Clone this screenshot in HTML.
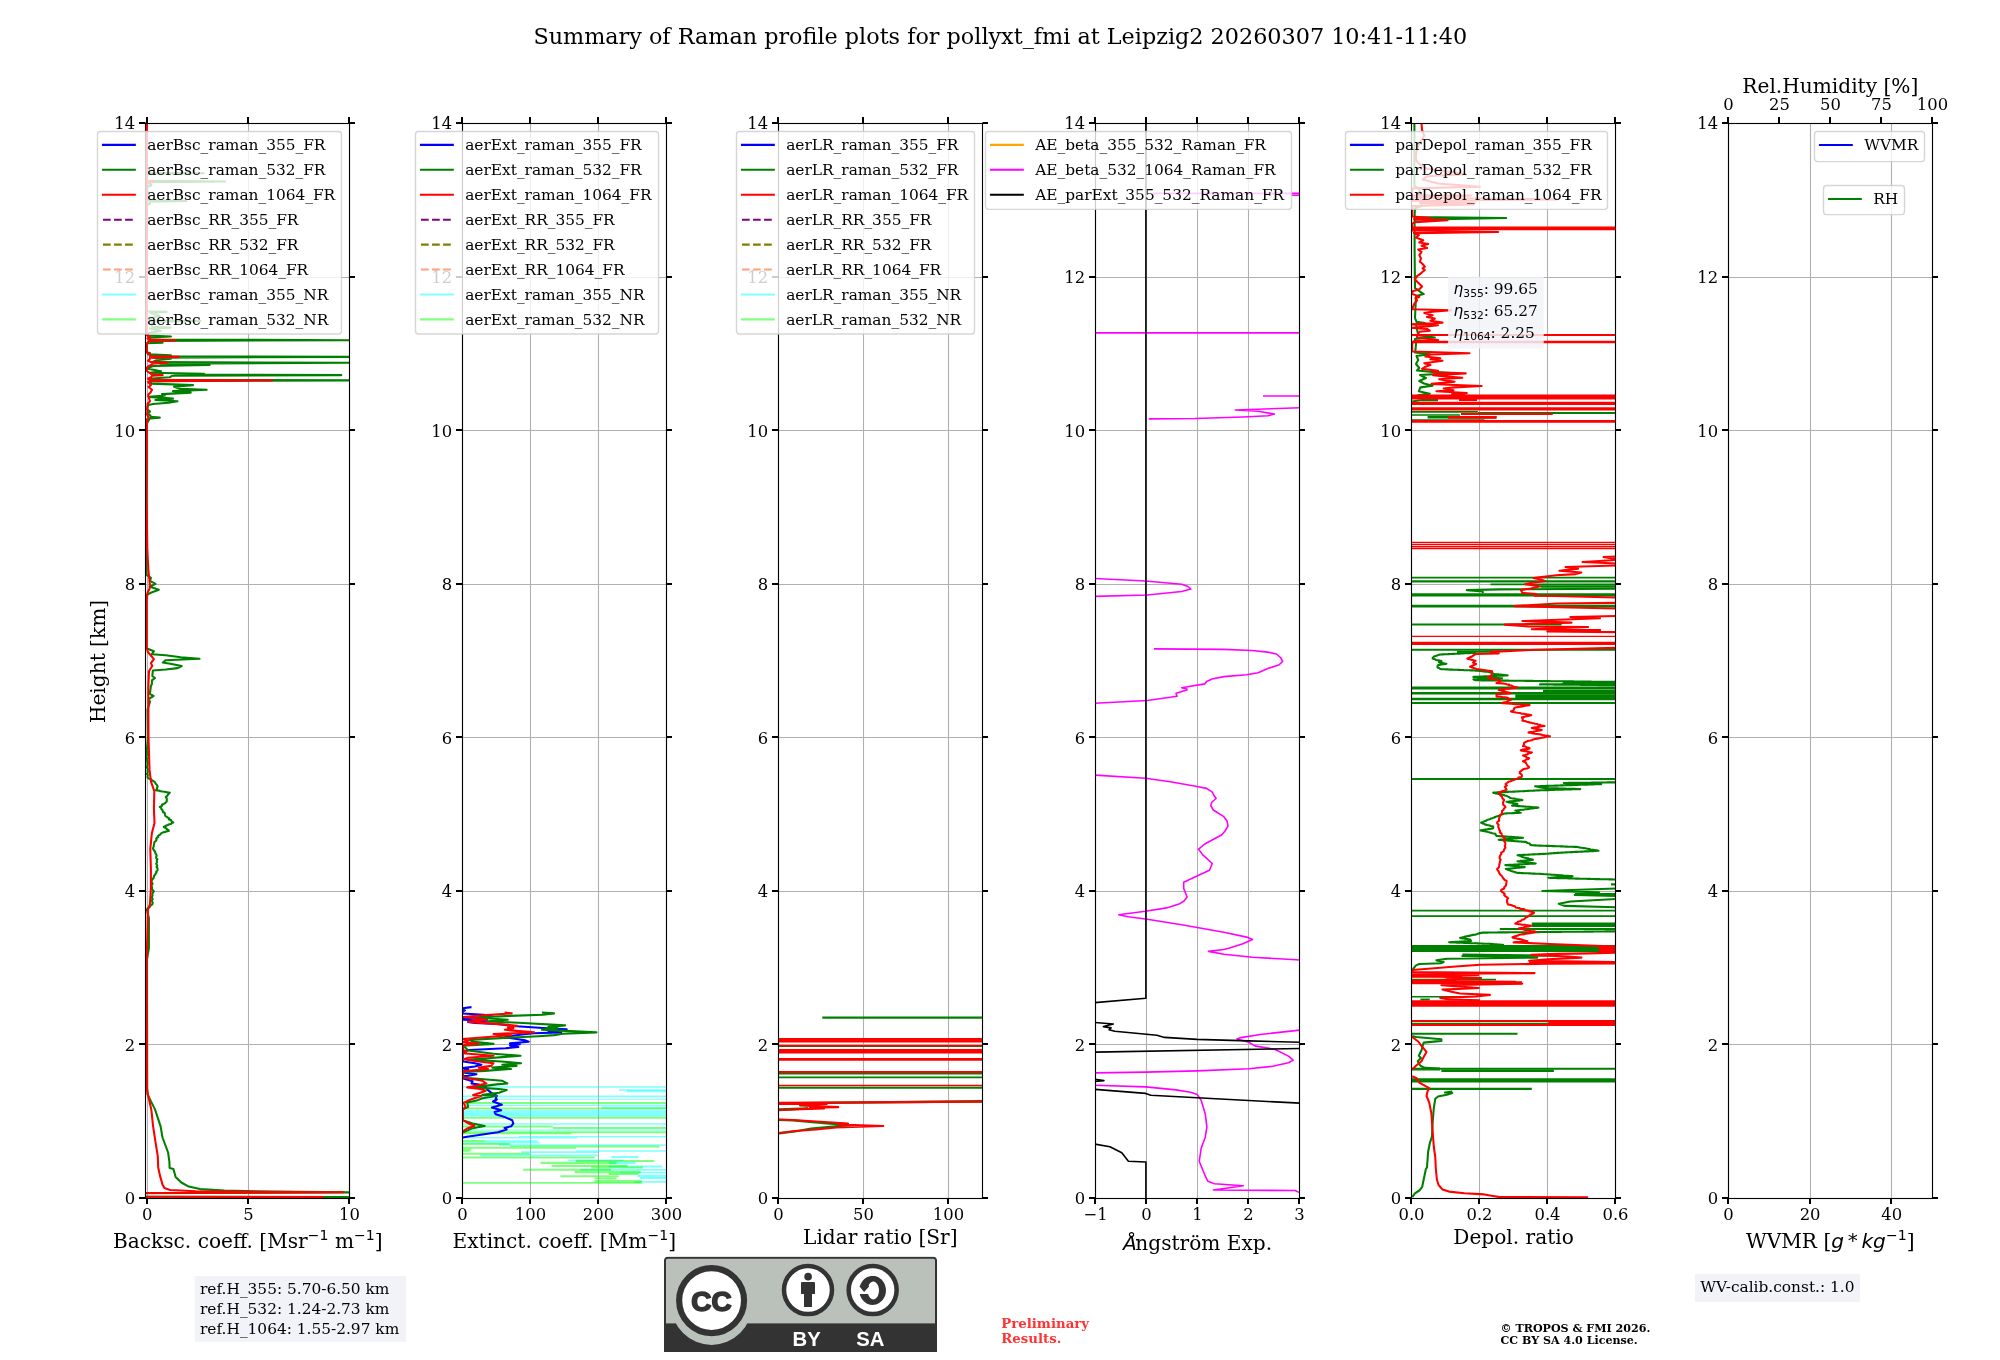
<!DOCTYPE html>
<html lang="en"><head><meta charset="utf-8"><title>Summary of Raman profile plots</title>
<style>html,body{margin:0;padding:0;background:#fff}body{width:2000px;height:1360px;overflow:hidden}svg text{white-space:pre}</style></head>
<body>
<svg width="2000" height="1360" viewBox="0 0 2000 1360" style="display:block;will-change:transform">
<rect width="2000" height="1360" fill="#fff"/>
<defs><clipPath id="c0"><rect x="145.50" y="123.50" width="204.00" height="1075.00"/></clipPath><clipPath id="c1"><rect x="462.50" y="123.50" width="204.00" height="1075.00"/></clipPath><clipPath id="c2"><rect x="778.50" y="123.50" width="204.00" height="1075.00"/></clipPath><clipPath id="c3"><rect x="1095.50" y="123.50" width="204.00" height="1075.00"/></clipPath><clipPath id="c4"><rect x="1411.50" y="123.50" width="204.00" height="1075.00"/></clipPath><clipPath id="c5"><rect x="1728.50" y="123.50" width="204.00" height="1075.00"/></clipPath></defs>
<text x="1000.30" y="43.80" font-size="22.30" text-anchor="middle" font-family="'DejaVu Serif','Liberation Serif',serif" >Summary of Raman profile plots for pollyxt_fmi at Leipzig2 20260307 10:41-11:40</text>
<g id="ax1">
<path d="M147.50 123.50V1198.50M248.50 123.50V1198.50M349.50 123.50V1198.50M145.50 1198.50H349.50M145.50 1044.50H349.50M145.50 891.50H349.50M145.50 737.50H349.50M145.50 584.50H349.50M145.50 430.50H349.50M145.50 277.50H349.50M145.50 123.50H349.50" stroke="#b0b0b0" stroke-width="1.11" fill="none"/>
<g clip-path="url(#c0)">
<path d="M146.6 123.5L146.6 172.7L203.7 173.3L147 173.9L147 180.9L225.2 181.5L148 182.1L151.6 185.3L147 187L147.5 192.8L147 200.3L186.3 201L150 201.7L150 203.5L147 205L146.6 311.2L166.5 311.9L150 312.8L160 316L149 318.5L152 320.3L200.4 321L152 321.8L152 326.8L170.6 327.6L150 328.5L160.7 330.9L148 333L148 335.6L170.9 336.5L150 337.4L150 339.5L356 340.2L150 340.9L152 342L162.6 342.6L147 343.3L146.6 352.3L149.9 353.1L148 354.4L170.9 355.3L152 356.2L356 356.9L153 357.6L170.9 358.8L156.5 360.2L152 362.1L356 362.8L160 363.6L209.5 364.9L153.2 366L146.6 368.5L161 371.3L150 372.8L204 373.8L175 374.5L341.3 375.1L172 375.8L169.8 377.3L152 378.5L150 379.7L356 380.4L151 381.1L151 383.6L193 385.1L174 386.7L180 388.8L206.7 389.7L173 391.1L190.7 392.6L162 394.1L164.8 395.5L148.8 396.9L173 398.6L155.4 400L177.5 401.3L168.7 402.7L153 404L148.3 405L147 409L150 411.5L147.7 413.7L150.5 415.7L150.5 416.8L159.8 417.6L150 418.5L148.3 420.9L146.6 424L146.4 574L146.5 574.8L150.9 577.8L149.9 580.8L155.5 583.8L149.9 586.7L158.8 589.7L150.9 592.7L146.9 594.7L146.4 598L146.4 646L146.5 648.3L153.9 651.2L151.9 654.2L165.8 655.2L180.7 657.2L199.5 658.8L165.8 660.2L162.8 662.5L171.7 664.1L181.7 666.1L177.7 668.1L165.8 669.5L152.9 670.5L152.3 676L154.9 678L151.9 680.4L151.9 684L150.9 686L149.9 693.9L153.5 696L148.9 698.9L149.9 701.9L147.5 709.8L147.9 737.6L146.9 749.5L146.9 749.5L146.5 750.6L147 751.7L146.8 752.8L147.2 753.9L147.2 755.1L146.3 756.2L146.3 757.3L147.6 758.4L146.7 759.5L146.7 760.6L148 761.7L147.1 762.8L147.8 764L147.2 765.1L147.5 766.2L146.7 767.3L147.5 768.4L147.9 769.5L147.4 770.6L147.8 771.7L147.7 772.9L146.7 774L147.9 775.1L147.6 776.2L147.5 777.3L148.1 777.9L148.7 778.5L151 779.1L151.3 779.7L152.3 780.3L153.7 781.3L155 782.3L155.5 783.3L156.5 784.6L157.5 785.9L157.5 787.2L156.8 788.2L156.9 789.2L155.9 790.2L157 790.4L158.9 790.6L160 790.9L159.9 791.1L161.1 791.3L162.4 791.5L164.8 791.7L165.1 791.9L166.5 792.1L167.2 792.4L168.7 792.6L169.8 792.8L168.8 793.7L168 794.5L167.5 795.4L166.7 796.2L165.8 797.1L166.8 798.4L166.8 799.8L166.8 801.1L166.6 801.8L165.6 802.6L165 803.3L163.6 804L161.9 804.8L162.1 805.5L161.4 806.3L159.8 807L161.2 808L161.4 809L162.4 810L162.8 811L163 812L164.7 813L164.9 814L165.1 815L165.4 816L166.8 817L168.3 817.8L169.4 818.6L168.9 819.4L171 820.1L171.3 820.9L171.8 821.7L173.3 822.5L171.9 823L171.6 823.5L170.7 824L168.3 824.5L168.2 825L166.2 825.5L166.3 826L164.6 826.5L163.8 827L165.4 827.8L166.6 828.6L166.8 829.3L168.6 830.1L168.8 830.9L167.3 831.2L165.8 831.6L165.5 831.9L163.4 832.2L162.5 832.6L161.8 832.9L160.8 833.7L160.3 834.5L158.8 835.3L157.8 836.2L158.3 837L156.9 837.8L156.1 838.8L156.6 839.8L156 840.8L154.6 841.8L154.3 842.8L154 844L153.8 845.2L153.7 846.3L153.3 847.5L152.9 848.7L153.6 849.7L154.2 850.7L155.3 851.7L155.2 852.7L155.6 853.7L156.3 854.7L156.7 855.8L156.1 857L156.2 858.1L157.4 859.2L156.8 860.3L156.9 861.5L156.9 862.6L156.2 863.7L156.9 864.9L157.3 866L156.5 867.1L157.5 868.2L157.6 869.4L157.5 870.5L156.2 871.5L156.5 872.5L155.6 873.5L155.4 874.5L154.3 875.5L153.9 876.5L153.7 877.5L153.3 878.5L151.6 879.5L151.9 880.5L151.2 881.6L152.2 882.8L152.6 883.9L151.5 885L151.8 886.1L152 887.3L151.9 888.4L152.3 889.4L153 890.4L153.9 891.4L153.1 892.4L152.6 893.4L152.3 894.4L152.5 895.6L152 896.9L152.1 898.1L152.7 899.3L151.5 900.6L152.4 901.8L152.7 903.1L152.3 904.3L151.1 905L150.2 905.8L150.2 906.5L148.9 907.3L147.8 908.2L147.1 909.1L146.9 910L148.9 918L148.9 948L146.9 960L147.2 1088L147.5 1094.4L155 1109.4L160.6 1126.3L162.5 1137.5L168.1 1152.5L169.4 1161.9L169.6 1167.9L173.4 1169L175.6 1176.9L181.3 1182.5L188.8 1186.6L200 1189.1L224.4 1190.6L271.3 1191.5L360 1192.4L140 1193.3L140 1196.7L360 1197.1" stroke="#008000" stroke-width="2.08" fill="none" stroke-linejoin="round" />
<path d="M146.9 123.5L146.8 180.9L154 181.5L146.8 182.1L146.8 335.5L149.9 336.5L147.5 338.5L149 339.5L175.8 340.2L149 340.9L148.3 342L146.8 343.5L146.8 352.5L149.9 354L150 356.2L179.1 356.9L150 357.6L149.9 359L148 360.8L151 362.1L167.6 362.8L152.1 363.6L152.1 364.5L148 366.5L146.8 368L146.8 371L151 373.8L152 374.4L162.6 375.1L152 375.8L151 377.3L148 378.8L150 379.7L272.3 380.4L150 381.1L148 382L151 385.1L148.5 387L152 389.7L150.5 392.6L148 395L150 401.3L147.5 404L147.2 415L148.8 417.6L147 419.5L146.8 430L146.6 500L147.3 549L148.3 569L149.9 584.8L149.5 588.8L147.5 592.7L146.7 600L146.7 648L147.9 652L153.9 659.2L150.9 663.1L152.3 666L149 671L148.3 688L148.5 737.6L149.5 769.4L150.9 781.3L154.3 791.2L153.9 809L154.5 823L151.9 832.9L150.3 848.7L150.9 868.6L150.9 888.4L149.9 904.3L147.9 910L147.5 928L146.7 960L146.9 1088L147.5 1092.5L151.3 1109.4L153.1 1126.3L155.4 1141.3L157.8 1156.3L158.2 1167.5L160.3 1176.9L162.5 1184.4L164.4 1188.1L170 1190L196 1191.3L343.5 1192.3L140 1193.1L140 1196.8L322.8 1197.1L322.8 1199" stroke="#ff0000" stroke-width="2.08" fill="none" stroke-linejoin="round" />
</g>
<rect x="145.50" y="123.50" width="204.00" height="1075.00" fill="none" stroke="#000" stroke-width="1.11"/>
<path d="M147.00 1198.50v5.50M147.00 123.50v-6.50M248.00 1198.50v5.50M248.00 123.50v-6.50M349.00 1198.50v5.50M349.00 123.50v-6.50M145.50 1198.00h-6.50M349.50 1198.00h5.50M145.50 1044.00h-6.50M349.50 1044.00h5.50M145.50 891.00h-6.50M349.50 891.00h5.50M145.50 737.00h-6.50M349.50 737.00h5.50M145.50 584.00h-6.50M349.50 584.00h5.50M145.50 430.00h-6.50M349.50 430.00h5.50M145.50 277.00h-6.50M349.50 277.00h5.50M145.50 123.00h-6.50M349.50 123.00h5.50" stroke="#000" stroke-width="2" fill="none"/>
<text x="147.22" y="1220.00" font-size="16.40" text-anchor="middle" font-family="'DejaVu Serif','Liberation Serif',serif" >0</text>
<text x="248.36" y="1220.00" font-size="16.40" text-anchor="middle" font-family="'DejaVu Serif','Liberation Serif',serif" >5</text>
<text x="349.50" y="1220.00" font-size="16.40" text-anchor="middle" font-family="'DejaVu Serif','Liberation Serif',serif" >10</text>
<text x="135.20" y="1204.40" font-size="16.40" text-anchor="end" font-family="'DejaVu Serif','Liberation Serif',serif" >0</text>
<text x="135.20" y="1050.83" font-size="16.40" text-anchor="end" font-family="'DejaVu Serif','Liberation Serif',serif" >2</text>
<text x="135.20" y="897.26" font-size="16.40" text-anchor="end" font-family="'DejaVu Serif','Liberation Serif',serif" >4</text>
<text x="135.20" y="743.69" font-size="16.40" text-anchor="end" font-family="'DejaVu Serif','Liberation Serif',serif" >6</text>
<text x="135.20" y="590.11" font-size="16.40" text-anchor="end" font-family="'DejaVu Serif','Liberation Serif',serif" >8</text>
<text x="135.20" y="436.54" font-size="16.40" text-anchor="end" font-family="'DejaVu Serif','Liberation Serif',serif" >10</text>
<text x="135.20" y="282.97" font-size="16.40" text-anchor="end" font-family="'DejaVu Serif','Liberation Serif',serif" >12</text>
<text x="135.20" y="129.40" font-size="16.40" text-anchor="end" font-family="'DejaVu Serif','Liberation Serif',serif" >14</text>
</g>
<rect x="97.50" y="131.50" width="244.00" height="202.51" rx="3" ry="3" fill="#fff" fill-opacity="0.8" stroke="#ccc" stroke-opacity="0.8" stroke-width="1.39"/>
<path d="M103.00 144.90H134.80" stroke="#0000ff" stroke-width="2.08" fill="none" stroke-linecap="square"/>
<text x="147.20" y="150.30" font-size="15.38" text-anchor="start" font-family="'DejaVu Serif','Liberation Serif',serif" >aerBsc_raman_355_FR</text>
<path d="M103.00 169.83H134.80" stroke="#008000" stroke-width="2.08" fill="none" stroke-linecap="square"/>
<text x="147.20" y="175.23" font-size="15.38" text-anchor="start" font-family="'DejaVu Serif','Liberation Serif',serif" >aerBsc_raman_532_FR</text>
<path d="M103.00 194.76H134.80" stroke="#ff0000" stroke-width="2.08" fill="none" stroke-linecap="square"/>
<text x="147.20" y="200.16" font-size="15.38" text-anchor="start" font-family="'DejaVu Serif','Liberation Serif',serif" >aerBsc_raman_1064_FR</text>
<path d="M103.00 219.69H134.80" stroke="#800080" stroke-width="2.08" fill="none" stroke-dasharray="7.7 3.33" stroke-dashoffset="0"/>
<text x="147.20" y="225.09" font-size="15.38" text-anchor="start" font-family="'DejaVu Serif','Liberation Serif',serif" >aerBsc_RR_355_FR</text>
<path d="M103.00 244.62H134.80" stroke="#808000" stroke-width="2.08" fill="none" stroke-dasharray="7.7 3.33" stroke-dashoffset="0"/>
<text x="147.20" y="250.02" font-size="15.38" text-anchor="start" font-family="'DejaVu Serif','Liberation Serif',serif" >aerBsc_RR_532_FR</text>
<path d="M103.00 269.55H134.80" stroke="#ffa07a" stroke-width="2.08" fill="none" stroke-dasharray="7.7 3.33" stroke-dashoffset="0"/>
<text x="147.20" y="274.95" font-size="15.38" text-anchor="start" font-family="'DejaVu Serif','Liberation Serif',serif" >aerBsc_RR_1064_FR</text>
<path d="M103.00 294.48H134.80" stroke="#80ffff" stroke-width="2.08" fill="none" stroke-linecap="square"/>
<text x="147.20" y="299.88" font-size="15.38" text-anchor="start" font-family="'DejaVu Serif','Liberation Serif',serif" >aerBsc_raman_355_NR</text>
<path d="M103.00 319.41H134.80" stroke="#80ff80" stroke-width="2.08" fill="none" stroke-linecap="square"/>
<text x="147.20" y="324.81" font-size="15.38" text-anchor="start" font-family="'DejaVu Serif','Liberation Serif',serif" >aerBsc_raman_532_NR</text>
<g id="ax2">
<path d="M462.50 123.50V1198.50M530.50 123.50V1198.50M598.50 123.50V1198.50M666.50 123.50V1198.50M462.50 1198.50H666.50M462.50 1044.50H666.50M462.50 891.50H666.50M462.50 737.50H666.50M462.50 584.50H666.50M462.50 430.50H666.50M462.50 277.50H666.50M462.50 123.50H666.50" stroke="#b0b0b0" stroke-width="1.11" fill="none"/>
<g clip-path="url(#c1)">
<path d="M462.5 1087H666.5M462.5 1096.4H666.5M462.5 1124H666.5M518.8 1136.7H666.5M462.5 1137.8H577.1M484.7 1141.1H537.5M499 1145H666.5M576 1151H666.5M521 1152.1H598M480.3 1155.4H598M568.3 1160.4H623.3M580.4 1169.9H666.5" stroke="#00ffff" stroke-width="1.6" fill="none" stroke-opacity="0.5"/>
<path d="M619 1090H666.5M462.5 1130.1H666.5" stroke="#00ffff" stroke-width="1.3" fill="none" stroke-opacity="0.5"/>
<path d="M626.6 1091.2H666.5M611.2 1157.1H638.7M609 1166.6H662.4M640 1178H666.5" stroke="#00ffff" stroke-width="2" fill="none" stroke-opacity="0.5"/>
<path d="M462.5 1099.3H666.5" stroke="#00ffff" stroke-width="1.0" fill="none" stroke-opacity="0.5"/>
<path d="M462.5 1105.4H666.5M462.5 1142.8H540M620 1172.5H666.5" stroke="#00ffff" stroke-width="1.4" fill="none" stroke-opacity="0.5"/>
<path d="M601.3 1107.6H666.5" stroke="#00ffff" stroke-width="2.2" fill="none" stroke-opacity="0.5"/>
<path d="M462.5 1113.3H666.5" stroke="#00ffff" stroke-width="6.2" fill="none" stroke-opacity="0.5"/>
<path d="M609 1162.9H635.4" stroke="#00ffff" stroke-width="2.4" fill="none" stroke-opacity="0.5"/>
<path d="M637.6 1176H666.5" stroke="#00ffff" stroke-width="2.5" fill="none" stroke-opacity="0.5"/>
<path d="M634.3 1181.8H666.5" stroke="#00ffff" stroke-width="1.8" fill="none" stroke-opacity="0.5"/>
<path d="M462.5 1102.9H666.5M462.5 1108.4H666.5M462.5 1117.7H666.5M462.5 1126.6H552.7M552.7 1127.9H666.5M462.5 1132.3H666.5M462.5 1141.1H484.7M462.5 1143.9H509.8M509.8 1146.4H659.4M462.5 1147.7H576M462.5 1149.4H471.5M462.5 1153.8H529.6M462.5 1157.6H594.7M575.8 1160.9H654.1M591.2 1167.5H642.9M523 1169.7H611M608.8 1174.1H638.5M560.4 1176.3H618.7M594.5 1178.5H616.5" stroke="#00ff00" stroke-width="2" fill="none" stroke-opacity="0.5"/>
<path d="M462.5 1133.5H571.4M462.5 1151H470M462.5 1182.9H641.8" stroke="#00ff00" stroke-width="1.6" fill="none" stroke-opacity="0.5"/>
<path d="M540.6 1162.9H616.5M551.6 1165.9H627.5" stroke="#00ff00" stroke-width="2.2" fill="none" stroke-opacity="0.5"/>
<path d="M574.7 1172H640.7M594.5 1181.2H641.8" stroke="#00ff00" stroke-width="2.4" fill="none" stroke-opacity="0.5"/>
<path d="M471.5 1007.1L462.7 1008.2L464.9 1010.4L462.7 1011.5L462.7 1013.5L483.6 1014.8L492.4 1016.4L462.7 1018.8L463.3 1019.8L486.9 1020.6L468.2 1021.9L474.8 1023L496.8 1024L516.6 1026.3L543 1028L566.7 1029.4L548.5 1030.9L561.2 1032.4L534.2 1033.2L526.5 1034L512.2 1035.7L504.5 1037.3L516.6 1039L525.4 1040.4L528.7 1041.7L510 1043.4L519.9 1044.1L510 1045.6L518.3 1047L505.6 1048.3L469.3 1050L462.7 1051.6L462.7 1060.5L463.3 1061.5L474.8 1063.2L481.4 1064.8L474.8 1066.5L462.7 1068.1L468.2 1069.2L462.7 1070.9L462.7 1072.5L476.5 1074.2L468.2 1075.8L462.7 1076.4L462.7 1078L464.9 1079.1L472.6 1081.3L471.5 1083.5L479.2 1084.6L485.8 1087.4L488 1090.1L491.3 1092.9L496.8 1095.6L495.7 1098.9L496.8 1099.5L493 1101.5L501.8 1104.8L491.9 1107.5L501.2 1110.3L494.6 1112L495.7 1114.2L504.5 1116.9L512.2 1120.2L513.3 1123.5L511.1 1126.3L504.5 1127.9L506.7 1129.5L497.9 1132.3L482.5 1134.5L467.1 1136.7L462.7 1137.6" stroke="#0000ff" stroke-width="2.08" fill="none" stroke-linejoin="round" />
<path d="M541.9 1012.6L554 1013.4L543 1014.8L510 1015.9L475.9 1017.5L507.8 1019.7L488 1021.4L523.2 1023L565 1025.4L548.5 1026.9L557.3 1028L541.9 1029.6L565 1030.9L596.4 1032.4L562.8 1033.8L554 1035.1L538.6 1036.2L504.5 1037.9L469.3 1040L473.7 1041.7L493.5 1043.9L463.3 1045.6L468.2 1050.5L493.5 1053.8L520.5 1055.8L502.3 1057.1L488 1058.2L469.3 1059.6L501.2 1061.5L521 1063.2L502.3 1064.8L516.6 1065.9L492.4 1067.6L511 1069L484.7 1070.9L462.7 1072L462.7 1077L468.2 1078L502.3 1080.8L507.3 1083.5L496.8 1084.4L473.7 1087.4L499 1089L506.7 1090L499 1092.7L482.5 1094.9L496.3 1096L482.5 1098.2L477 1100.4L467.1 1102.6L468.2 1107L463.8 1108.7L462.7 1110.3L462.7 1120.2L472.6 1123.5L484.7 1125.9L471.5 1128.5L468.2 1130.1L463.3 1132.3" stroke="#008000" stroke-width="2.08" fill="none" stroke-linejoin="round" />
<path d="M504.5 1012.6L511.7 1013.4L482.5 1015.3L463.3 1017L477 1018.4L486.9 1019.7L468.2 1021.9L499 1024.1L517.2 1025.8L507.8 1027.4L513.3 1028.3L505 1029.8L516.6 1030.9L534.2 1032.4L493.5 1034L511.1 1035.1L491.3 1036.8L462.7 1039L468.2 1040.6L462.7 1042.3L478.7 1043.9L462.7 1045L463.3 1050L466.6 1051.6L462.7 1053.3L493.5 1055.8L468.2 1057.7L463.8 1059.3L474.8 1061L493.5 1063.2L491.3 1065.9L478.7 1067.6L488 1069L462.7 1071.4L463.3 1077.5L482.5 1080.8L486.4 1083.5L481.4 1084.6L467.1 1087.4L480.3 1089L485.8 1090.7L480.3 1092.7L473.2 1095.1L481.4 1096L471.5 1099.3L463.8 1102.6L465.5 1107L462.7 1109.8L462.7 1120.2L468.8 1123.5L474.3 1125.9L467.1 1128.5L463.3 1131.2L462.7 1132.9" stroke="#ff0000" stroke-width="2.08" fill="none" stroke-linejoin="round" />
</g>
<rect x="462.50" y="123.50" width="204.00" height="1075.00" fill="none" stroke="#000" stroke-width="1.11"/>
<path d="M462.00 1198.50v5.50M462.00 123.50v-6.50M530.00 1198.50v5.50M530.00 123.50v-6.50M598.00 1198.50v5.50M598.00 123.50v-6.50M666.00 1198.50v5.50M666.00 123.50v-6.50M462.50 1198.00h-6.50M666.50 1198.00h5.50M462.50 1044.00h-6.50M666.50 1044.00h5.50M462.50 891.00h-6.50M666.50 891.00h5.50M462.50 737.00h-6.50M666.50 737.00h5.50M462.50 584.00h-6.50M666.50 584.00h5.50M462.50 430.00h-6.50M666.50 430.00h5.50M462.50 277.00h-6.50M666.50 277.00h5.50M462.50 123.00h-6.50M666.50 123.00h5.50" stroke="#000" stroke-width="2" fill="none"/>
<text x="462.50" y="1220.00" font-size="16.40" text-anchor="middle" font-family="'DejaVu Serif','Liberation Serif',serif" >0</text>
<text x="530.50" y="1220.00" font-size="16.40" text-anchor="middle" font-family="'DejaVu Serif','Liberation Serif',serif" >100</text>
<text x="598.50" y="1220.00" font-size="16.40" text-anchor="middle" font-family="'DejaVu Serif','Liberation Serif',serif" >200</text>
<text x="666.50" y="1220.00" font-size="16.40" text-anchor="middle" font-family="'DejaVu Serif','Liberation Serif',serif" >300</text>
<text x="452.20" y="1204.40" font-size="16.40" text-anchor="end" font-family="'DejaVu Serif','Liberation Serif',serif" >0</text>
<text x="452.20" y="1050.83" font-size="16.40" text-anchor="end" font-family="'DejaVu Serif','Liberation Serif',serif" >2</text>
<text x="452.20" y="897.26" font-size="16.40" text-anchor="end" font-family="'DejaVu Serif','Liberation Serif',serif" >4</text>
<text x="452.20" y="743.69" font-size="16.40" text-anchor="end" font-family="'DejaVu Serif','Liberation Serif',serif" >6</text>
<text x="452.20" y="590.11" font-size="16.40" text-anchor="end" font-family="'DejaVu Serif','Liberation Serif',serif" >8</text>
<text x="452.20" y="436.54" font-size="16.40" text-anchor="end" font-family="'DejaVu Serif','Liberation Serif',serif" >10</text>
<text x="452.20" y="282.97" font-size="16.40" text-anchor="end" font-family="'DejaVu Serif','Liberation Serif',serif" >12</text>
<text x="452.20" y="129.40" font-size="16.40" text-anchor="end" font-family="'DejaVu Serif','Liberation Serif',serif" >14</text>
</g>
<rect x="415.50" y="131.50" width="243.00" height="202.51" rx="3" ry="3" fill="#fff" fill-opacity="0.8" stroke="#ccc" stroke-opacity="0.8" stroke-width="1.39"/>
<path d="M421.00 144.90H452.80" stroke="#0000ff" stroke-width="2.08" fill="none" stroke-linecap="square"/>
<text x="465.20" y="150.30" font-size="15.38" text-anchor="start" font-family="'DejaVu Serif','Liberation Serif',serif" >aerExt_raman_355_FR</text>
<path d="M421.00 169.83H452.80" stroke="#008000" stroke-width="2.08" fill="none" stroke-linecap="square"/>
<text x="465.20" y="175.23" font-size="15.38" text-anchor="start" font-family="'DejaVu Serif','Liberation Serif',serif" >aerExt_raman_532_FR</text>
<path d="M421.00 194.76H452.80" stroke="#ff0000" stroke-width="2.08" fill="none" stroke-linecap="square"/>
<text x="465.20" y="200.16" font-size="15.38" text-anchor="start" font-family="'DejaVu Serif','Liberation Serif',serif" >aerExt_raman_1064_FR</text>
<path d="M421.00 219.69H452.80" stroke="#800080" stroke-width="2.08" fill="none" stroke-dasharray="7.7 3.33" stroke-dashoffset="0"/>
<text x="465.20" y="225.09" font-size="15.38" text-anchor="start" font-family="'DejaVu Serif','Liberation Serif',serif" >aerExt_RR_355_FR</text>
<path d="M421.00 244.62H452.80" stroke="#808000" stroke-width="2.08" fill="none" stroke-dasharray="7.7 3.33" stroke-dashoffset="0"/>
<text x="465.20" y="250.02" font-size="15.38" text-anchor="start" font-family="'DejaVu Serif','Liberation Serif',serif" >aerExt_RR_532_FR</text>
<path d="M421.00 269.55H452.80" stroke="#ffa07a" stroke-width="2.08" fill="none" stroke-dasharray="7.7 3.33" stroke-dashoffset="0"/>
<text x="465.20" y="274.95" font-size="15.38" text-anchor="start" font-family="'DejaVu Serif','Liberation Serif',serif" >aerExt_RR_1064_FR</text>
<path d="M421.00 294.48H452.80" stroke="#80ffff" stroke-width="2.08" fill="none" stroke-linecap="square"/>
<text x="465.20" y="299.88" font-size="15.38" text-anchor="start" font-family="'DejaVu Serif','Liberation Serif',serif" >aerExt_raman_355_NR</text>
<path d="M421.00 319.41H452.80" stroke="#80ff80" stroke-width="2.08" fill="none" stroke-linecap="square"/>
<text x="465.20" y="324.81" font-size="15.38" text-anchor="start" font-family="'DejaVu Serif','Liberation Serif',serif" >aerExt_raman_532_NR</text>
<g id="ax3">
<path d="M778.50 123.50V1198.50M863.50 123.50V1198.50M948.50 123.50V1198.50M778.50 1198.50H982.50M778.50 1044.50H982.50M778.50 891.50H982.50M778.50 737.50H982.50M778.50 584.50H982.50M778.50 430.50H982.50M778.50 277.50H982.50M778.50 123.50H982.50" stroke="#b0b0b0" stroke-width="1.11" fill="none"/>
<g clip-path="url(#c2)">
<path d="M822.3 1017.6H983" stroke="#008000" stroke-width="2.1" fill="none" />
<path d="M779 1046.3H983" stroke="#008000" stroke-width="1.6" fill="none" />
<path d="M779 1073.6H983" stroke="#008000" stroke-width="1.8" fill="none" />
<path d="M779 1077.4H983" stroke="#008000" stroke-width="1.7" fill="none" />
<path d="M779 1087.7H983" stroke="#008000" stroke-width="2.0" fill="none" />
<path d="M779 1103.4L983 1101.3" stroke="#008000" stroke-width="2.4" fill="none" stroke-linejoin="round" />
<path d="M779 1119.9L793 1120.4L829.6 1123.6L838 1124.2L850 1125.4L836 1126.3L811 1128.5L795 1131.4L779 1133.4" stroke="#008000" stroke-width="2.08" fill="none" stroke-linejoin="round" />
<path d="M779 1109.2L807.6 1108.4L779 1110.3" stroke="#008000" stroke-width="2.08" fill="none" stroke-linejoin="round" />
<path d="M779 1040.2H983M779 1051.3H983" stroke="#ff0000" stroke-width="4.6" fill="none" />
<path d="M779 1045.8H983M779 1085.5H983" stroke="#ff0000" stroke-width="1.5" fill="none" />
<path d="M779 1059.4H983" stroke="#ff0000" stroke-width="2.6" fill="none" />
<path d="M779 1072H983" stroke="#ff0000" stroke-width="2.2" fill="none" />
<path d="M779 1102.9L983 1101.6" stroke="#ff0000" stroke-width="2.08" fill="none" stroke-linejoin="round" />
<path d="M779 1104L826.7 1104L800 1105.5L838.2 1107.1L810 1107.8L824 1108.4L779 1110" stroke="#ff0000" stroke-width="2.08" fill="none" stroke-linejoin="round" />
<path d="M779 1119.5L793 1120L848 1123.5L839 1124.6L883.3 1126L836 1127.5L816 1129.5L795 1131L779 1133" stroke="#ff0000" stroke-width="2.08" fill="none" stroke-linejoin="round" />
</g>
<rect x="778.50" y="123.50" width="204.00" height="1075.00" fill="none" stroke="#000" stroke-width="1.11"/>
<path d="M778.00 1198.50v5.50M778.00 123.50v-6.50M863.00 1198.50v5.50M863.00 123.50v-6.50M948.00 1198.50v5.50M948.00 123.50v-6.50M778.50 1198.00h-6.50M982.50 1198.00h5.50M778.50 1044.00h-6.50M982.50 1044.00h5.50M778.50 891.00h-6.50M982.50 891.00h5.50M778.50 737.00h-6.50M982.50 737.00h5.50M778.50 584.00h-6.50M982.50 584.00h5.50M778.50 430.00h-6.50M982.50 430.00h5.50M778.50 277.00h-6.50M982.50 277.00h5.50M778.50 123.00h-6.50M982.50 123.00h5.50" stroke="#000" stroke-width="2" fill="none"/>
<text x="778.50" y="1220.00" font-size="16.40" text-anchor="middle" font-family="'DejaVu Serif','Liberation Serif',serif" >0</text>
<text x="863.50" y="1220.00" font-size="16.40" text-anchor="middle" font-family="'DejaVu Serif','Liberation Serif',serif" >50</text>
<text x="948.50" y="1220.00" font-size="16.40" text-anchor="middle" font-family="'DejaVu Serif','Liberation Serif',serif" >100</text>
<text x="768.20" y="1204.40" font-size="16.40" text-anchor="end" font-family="'DejaVu Serif','Liberation Serif',serif" >0</text>
<text x="768.20" y="1050.83" font-size="16.40" text-anchor="end" font-family="'DejaVu Serif','Liberation Serif',serif" >2</text>
<text x="768.20" y="897.26" font-size="16.40" text-anchor="end" font-family="'DejaVu Serif','Liberation Serif',serif" >4</text>
<text x="768.20" y="743.69" font-size="16.40" text-anchor="end" font-family="'DejaVu Serif','Liberation Serif',serif" >6</text>
<text x="768.20" y="590.11" font-size="16.40" text-anchor="end" font-family="'DejaVu Serif','Liberation Serif',serif" >8</text>
<text x="768.20" y="436.54" font-size="16.40" text-anchor="end" font-family="'DejaVu Serif','Liberation Serif',serif" >10</text>
<text x="768.20" y="282.97" font-size="16.40" text-anchor="end" font-family="'DejaVu Serif','Liberation Serif',serif" >12</text>
<text x="768.20" y="129.40" font-size="16.40" text-anchor="end" font-family="'DejaVu Serif','Liberation Serif',serif" >14</text>
</g>
<rect x="736.50" y="131.50" width="238.00" height="202.51" rx="3" ry="3" fill="#fff" fill-opacity="0.8" stroke="#ccc" stroke-opacity="0.8" stroke-width="1.39"/>
<path d="M742.00 144.90H773.80" stroke="#0000ff" stroke-width="2.08" fill="none" stroke-linecap="square"/>
<text x="786.20" y="150.30" font-size="15.38" text-anchor="start" font-family="'DejaVu Serif','Liberation Serif',serif" >aerLR_raman_355_FR</text>
<path d="M742.00 169.83H773.80" stroke="#008000" stroke-width="2.08" fill="none" stroke-linecap="square"/>
<text x="786.20" y="175.23" font-size="15.38" text-anchor="start" font-family="'DejaVu Serif','Liberation Serif',serif" >aerLR_raman_532_FR</text>
<path d="M742.00 194.76H773.80" stroke="#ff0000" stroke-width="2.08" fill="none" stroke-linecap="square"/>
<text x="786.20" y="200.16" font-size="15.38" text-anchor="start" font-family="'DejaVu Serif','Liberation Serif',serif" >aerLR_raman_1064_FR</text>
<path d="M742.00 219.69H773.80" stroke="#800080" stroke-width="2.08" fill="none" stroke-dasharray="7.7 3.33" stroke-dashoffset="0"/>
<text x="786.20" y="225.09" font-size="15.38" text-anchor="start" font-family="'DejaVu Serif','Liberation Serif',serif" >aerLR_RR_355_FR</text>
<path d="M742.00 244.62H773.80" stroke="#808000" stroke-width="2.08" fill="none" stroke-dasharray="7.7 3.33" stroke-dashoffset="0"/>
<text x="786.20" y="250.02" font-size="15.38" text-anchor="start" font-family="'DejaVu Serif','Liberation Serif',serif" >aerLR_RR_532_FR</text>
<path d="M742.00 269.55H773.80" stroke="#ffa07a" stroke-width="2.08" fill="none" stroke-dasharray="7.7 3.33" stroke-dashoffset="0"/>
<text x="786.20" y="274.95" font-size="15.38" text-anchor="start" font-family="'DejaVu Serif','Liberation Serif',serif" >aerLR_RR_1064_FR</text>
<path d="M742.00 294.48H773.80" stroke="#80ffff" stroke-width="2.08" fill="none" stroke-linecap="square"/>
<text x="786.20" y="299.88" font-size="15.38" text-anchor="start" font-family="'DejaVu Serif','Liberation Serif',serif" >aerLR_raman_355_NR</text>
<path d="M742.00 319.41H773.80" stroke="#80ff80" stroke-width="2.08" fill="none" stroke-linecap="square"/>
<text x="786.20" y="324.81" font-size="15.38" text-anchor="start" font-family="'DejaVu Serif','Liberation Serif',serif" >aerLR_raman_532_NR</text>
<g id="ax4">
<path d="M1095.50 123.50V1198.50M1146.50 123.50V1198.50M1197.50 123.50V1198.50M1248.50 123.50V1198.50M1299.50 123.50V1198.50M1095.50 1198.50H1299.50M1095.50 1044.50H1299.50M1095.50 891.50H1299.50M1095.50 737.50H1299.50M1095.50 584.50H1299.50M1095.50 430.50H1299.50M1095.50 277.50H1299.50M1095.50 123.50H1299.50" stroke="#b0b0b0" stroke-width="1.11" fill="none"/>
<g clip-path="url(#c3)">
<path d="M1153 193.4L1305 193.4" stroke="#ff00ff" stroke-width="1.6" fill="none" stroke-linejoin="round" />
<path d="M1291.6 195.2L1305 195.2" stroke="#ff00ff" stroke-width="1.6" fill="none" stroke-linejoin="round" />
<path d="M1090 332.9L1305 332.9" stroke="#ff00ff" stroke-width="1.6" fill="none" stroke-linejoin="round" />
<path d="M1263 396L1305 396" stroke="#ff00ff" stroke-width="1.6" fill="none" stroke-linejoin="round" />
<path d="M1305 407.6L1235.3 410L1258.2 411.3L1274.4 414.1L1268 415.8L1243 417L1195 418.5L1148.7 418.9" stroke="#ff00ff" stroke-width="1.6" fill="none" stroke-linejoin="round" />
<path d="M1090 578.3L1145.4 581L1181.7 584.3L1188 586.5L1190.9 589L1181.7 591.5L1147.3 595L1090 596.5" stroke="#ff00ff" stroke-width="1.6" fill="none" stroke-linejoin="round" />
<path d="M1154 648.9L1223.8 649.4L1252 650.5L1267.8 652.1L1276.4 654L1280.5 657.5L1282.7 661.3L1279.2 664.7L1267.8 668.6L1258.2 672.8L1246.7 674.7L1223.8 676.6L1212 679L1206.6 681.4L1204.7 683.9L1181.7 687.7L1187 689L1186.9 690L1176 693.2L1177 696.3L1147.3 700.5L1090 703.5" stroke="#ff00ff" stroke-width="1.6" fill="none" stroke-linejoin="round" />
<path d="M1090 774.8L1145.4 778.3L1170.3 781.7L1197 786.5L1206.6 788.4L1212.3 792.2L1214 795.5L1216.1 798.5L1212 802L1210.8 805.6L1213.3 810L1223.8 816.7L1227 821L1228 826.2L1225 831L1221.9 834.8L1204.7 844L1198.6 849.2L1202.8 854.9L1212.3 863.5L1209.5 870.2L1197 876L1183.7 882.2L1183.7 888.4L1185.5 893L1187.1 897L1184 901L1179.8 903.7L1166.5 907.9L1145.4 911.3L1118.7 914.7L1128.2 916.7L1147.3 919.3L1181.7 924.7L1223.8 932.3L1246.7 937.1L1252.5 939.6L1242.9 943.8L1229.5 948L1223.8 949.5L1208.5 951.4L1223.8 954.3L1252.5 957.2L1305 960.3" stroke="#ff00ff" stroke-width="1.6" fill="none" stroke-linejoin="round" />
<path d="M1305 1029.6L1262 1034.3L1240.9 1037.6L1236.9 1038.9L1248.8 1042.2L1254.8 1045.9L1275.3 1049.5L1288.5 1056.1L1293.2 1060.1L1288.5 1062.7L1272.7 1066.3L1248.8 1068.7L1197.2 1070.9L1145.6 1072.1L1090 1073" stroke="#ff00ff" stroke-width="1.6" fill="none" stroke-linejoin="round" />
<path d="M1090 1085.1L1145.6 1086.9L1176 1089.9L1190.6 1092.2L1197.2 1094.5L1201.2 1100.4L1205.2 1113.7L1206.9 1126.9L1205.2 1137.5L1201.2 1148.1L1199.2 1161.3L1202.5 1169.3L1205.8 1177.2L1207.8 1181.2L1214.4 1183.8L1243.3 1185.8L1213.4 1190L1295.2 1190.5L1298.9 1192.4" stroke="#ff00ff" stroke-width="1.6" fill="none" stroke-linejoin="round" />
<path d="M1145.9 123.5L1145.9 998.3L1090 1003.1" stroke="#000000" stroke-width="1.6" fill="none" stroke-linejoin="round" />
<path d="M1090 1022L1113.3 1024L1103.4 1026.6L1111 1027.9L1109.1 1029.8L1114.8 1031.3L1156.9 1035.2L1164.5 1037.4L1197 1039.4L1248.6 1040.9L1305 1042.3" stroke="#000000" stroke-width="1.6" fill="none" stroke-linejoin="round" />
<path d="M1305 1048.4L1090 1052.2" stroke="#000000" stroke-width="1.6" fill="none" stroke-linejoin="round" />
<path d="M1090 1078.4L1103.9 1080.6L1090 1081.9" stroke="#000000" stroke-width="1.6" fill="none" stroke-linejoin="round" />
<path d="M1090 1089L1145.6 1093.4L1150.9 1095.2L1197.2 1097.8L1305 1103.4" stroke="#000000" stroke-width="1.6" fill="none" stroke-linejoin="round" />
<path d="M1090 1143.2L1109.9 1146.8L1121.8 1152.7L1128.4 1161.3L1145.9 1162L1145.9 1199" stroke="#000000" stroke-width="1.6" fill="none" stroke-linejoin="round" />
</g>
<rect x="1095.50" y="123.50" width="204.00" height="1075.00" fill="none" stroke="#000" stroke-width="1.11"/>
<path d="M1095.00 1198.50v5.50M1095.00 123.50v-6.50M1146.00 1198.50v5.50M1146.00 123.50v-6.50M1197.00 1198.50v5.50M1197.00 123.50v-6.50M1248.00 1198.50v5.50M1248.00 123.50v-6.50M1299.00 1198.50v5.50M1299.00 123.50v-6.50M1095.50 1198.00h-6.50M1299.50 1198.00h5.50M1095.50 1044.00h-6.50M1299.50 1044.00h5.50M1095.50 891.00h-6.50M1299.50 891.00h5.50M1095.50 737.00h-6.50M1299.50 737.00h5.50M1095.50 584.00h-6.50M1299.50 584.00h5.50M1095.50 430.00h-6.50M1299.50 430.00h5.50M1095.50 277.00h-6.50M1299.50 277.00h5.50M1095.50 123.00h-6.50M1299.50 123.00h5.50" stroke="#000" stroke-width="2" fill="none"/>
<text x="1095.50" y="1220.00" font-size="16.40" text-anchor="middle" font-family="'DejaVu Serif','Liberation Serif',serif" >−1</text>
<text x="1146.50" y="1220.00" font-size="16.40" text-anchor="middle" font-family="'DejaVu Serif','Liberation Serif',serif" >0</text>
<text x="1197.50" y="1220.00" font-size="16.40" text-anchor="middle" font-family="'DejaVu Serif','Liberation Serif',serif" >1</text>
<text x="1248.50" y="1220.00" font-size="16.40" text-anchor="middle" font-family="'DejaVu Serif','Liberation Serif',serif" >2</text>
<text x="1299.50" y="1220.00" font-size="16.40" text-anchor="middle" font-family="'DejaVu Serif','Liberation Serif',serif" >3</text>
<text x="1085.20" y="1204.40" font-size="16.40" text-anchor="end" font-family="'DejaVu Serif','Liberation Serif',serif" >0</text>
<text x="1085.20" y="1050.83" font-size="16.40" text-anchor="end" font-family="'DejaVu Serif','Liberation Serif',serif" >2</text>
<text x="1085.20" y="897.26" font-size="16.40" text-anchor="end" font-family="'DejaVu Serif','Liberation Serif',serif" >4</text>
<text x="1085.20" y="743.69" font-size="16.40" text-anchor="end" font-family="'DejaVu Serif','Liberation Serif',serif" >6</text>
<text x="1085.20" y="590.11" font-size="16.40" text-anchor="end" font-family="'DejaVu Serif','Liberation Serif',serif" >8</text>
<text x="1085.20" y="436.54" font-size="16.40" text-anchor="end" font-family="'DejaVu Serif','Liberation Serif',serif" >10</text>
<text x="1085.20" y="282.97" font-size="16.40" text-anchor="end" font-family="'DejaVu Serif','Liberation Serif',serif" >12</text>
<text x="1085.20" y="129.40" font-size="16.40" text-anchor="end" font-family="'DejaVu Serif','Liberation Serif',serif" >14</text>
</g>
<rect x="985.50" y="131.50" width="306.00" height="77.86" rx="3" ry="3" fill="#fff" fill-opacity="0.8" stroke="#ccc" stroke-opacity="0.8" stroke-width="1.39"/>
<path d="M991.00 144.90H1022.80" stroke="#ffa500" stroke-width="2.08" fill="none" stroke-linecap="square"/>
<text x="1035.20" y="150.30" font-size="15.38" text-anchor="start" font-family="'DejaVu Serif','Liberation Serif',serif" >AE_beta_355_532_Raman_FR</text>
<path d="M991.00 169.83H1022.80" stroke="#ff00ff" stroke-width="2.08" fill="none" stroke-linecap="square"/>
<text x="1035.20" y="175.23" font-size="15.38" text-anchor="start" font-family="'DejaVu Serif','Liberation Serif',serif" >AE_beta_532_1064_Raman_FR</text>
<path d="M991.00 194.76H1022.80" stroke="#000000" stroke-width="2.08" fill="none" stroke-linecap="square"/>
<text x="1035.20" y="200.16" font-size="15.38" text-anchor="start" font-family="'DejaVu Serif','Liberation Serif',serif" >AE_parExt_355_532_Raman_FR</text>
<g id="ax5">
<path d="M1411.50 123.50V1198.50M1479.50 123.50V1198.50M1547.50 123.50V1198.50M1615.50 123.50V1198.50M1411.50 1198.50H1615.50M1411.50 1044.50H1615.50M1411.50 891.50H1615.50M1411.50 737.50H1615.50M1411.50 584.50H1615.50M1411.50 430.50H1615.50M1411.50 277.50H1615.50M1411.50 123.50H1615.50" stroke="#b0b0b0" stroke-width="1.11" fill="none"/>
<g clip-path="url(#c4)">
<path d="M1412 577.6H1616M1412 996.8H1464.5M1412 1023.6H1565M1412 396.4H1451M1412 415H1460.1M1412 420H1484.4" stroke="#008000" stroke-width="1.6" fill="none" />
<path d="M1412 581.4H1616M1540.6 586.5H1616M1441.4 1070.7H1553.9M1611 884.4H1616" stroke="#008000" stroke-width="2.4" fill="none" />
<path d="M1490.5 584.3H1616M1412 910.6H1616M1412 916.1H1616M1412 979.7H1496M1430 403.1H1490M1412 411.9H1477.8" stroke="#008000" stroke-width="1.8" fill="none" />
<path d="M1412 594.8H1616" stroke="#008000" stroke-width="3.2" fill="none" />
<path d="M1412 606.1H1616" stroke="#008000" stroke-width="2.6" fill="none" />
<path d="M1412 624.6H1561.6M1412 649.7H1616M1412 703.1H1616M1412 779H1616M1499.8 928.9H1616M1420.4 999.5H1429.8M1412 1033.7H1517.5M1412 1068.8H1616" stroke="#008000" stroke-width="2" fill="none" />
<path d="M1412 687.9H1616" stroke="#008000" stroke-width="3" fill="none" />
<path d="M1543 690.9H1616M1412 693.2H1616M1412 698.9H1616M1427.6 417.2H1496.5M1421 400.1H1438" stroke="#008000" stroke-width="2.5" fill="none" />
<path d="M1515.3 696.2H1616" stroke="#008000" stroke-width="4" fill="none" />
<path d="M1531.8 924.7H1616" stroke="#008000" stroke-width="4.5" fill="none" />
<path d="M1412 948.6H1616" stroke="#008000" stroke-width="7" fill="none" />
<path d="M1412 1069.9H1440" stroke="#008000" stroke-width="1.2" fill="none" />
<path d="M1412 1080.3H1616" stroke="#008000" stroke-width="4.2" fill="none" />
<path d="M1412 1088.9H1531.8M1477.8 413H1616" stroke="#008000" stroke-width="2.2" fill="none" />
<path d="M1414.4 123.5L1414.4 186L1419.3 188.4L1421 200L1422 206L1414.9 208.2L1414.6 217L1506.2 218L1414.6 219.6L1414.6 250L1415 288.2L1423.7 294.1L1416 296L1415 318L1416.5 321.9L1424.8 323L1416 324L1417.1 330.1L1418.2 335.1L1434.8 337.5L1414.9 339L1416 343.4L1415.5 350L1415 352.5L1429.8 354.3L1416.5 356L1418.2 360L1416 364L1419.3 368L1417 370.5L1432.6 372L1452.4 373.1L1420 375L1425.9 378L1419.3 381L1424 383.5L1432.6 385.8L1420.4 387.4L1418.8 391.3L1429.8 393.8L1418 395.3L1430 398L1421 400L1412.2 401.5" stroke="#008000" stroke-width="2.08" fill="none" stroke-linejoin="round" />
<path d="M1620 588.8L1500 589.4L1466.8 590.1L1482.6 591.5L1483 593.2" stroke="#008000" stroke-width="2.08" fill="none" stroke-linejoin="round" />
<path d="M1500 651.5L1499.7 651.5L1497.4 651.5L1496.2 651.5L1496.8 651.5L1494.5 651.5L1493.4 651.6L1493.2 651.6L1491.7 651.6L1491.6 651.6L1489.5 651.6L1489.7 651.6L1487.7 651.6L1487.1 651.6L1486.7 651.6L1485.3 651.6L1484.6 651.7L1483.3 651.7L1481.2 651.7L1481.6 651.7L1480.1 651.7L1478.6 651.7L1477.5 651.7L1477.5 651.7L1476.1 651.7L1475.6 651.7L1474.4 651.7L1473.7 651.8L1472 651.8L1471.2 651.8L1470.1 651.8L1468.5 651.8L1468.7 651.8L1466.6 651.8L1466.4 651.8L1465.6 651.8L1464.2 651.8L1462.3 651.9L1462.4 651.9L1461.2 651.9L1459.4 651.9L1458.2 651.9L1457.9 651.9L1459 652L1459.2 652L1461.6 652.1L1461.9 652.1L1463 652.2L1463.8 652.2L1465.2 652.3L1466.6 652.3L1466.6 652.4L1467.8 652.4L1469.1 652.5L1469.6 652.5L1471.1 652.6L1472.1 652.6L1472.9 652.7L1474.3 652.7L1475 652.8L1474 652.9L1472.3 652.9L1472.7 653L1470.7 653L1469.8 653.1L1468.7 653.1L1468.5 653.2L1467.5 653.2L1465.8 653.3L1464.6 653.3L1463.1 653.4L1463.4 653.4L1461.2 653.5L1460.8 653.5L1459.4 653.6L1458.4 653.6L1457.4 653.7L1456.1 653.7L1454.8 653.8L1454.6 653.8L1454 653.9L1452.7 653.9L1451 654L1450.8 654L1448.7 654.1L1448.3 654.1L1447.9 654.2L1447 654.2L1445.3 654.3L1444.9 654.3L1443.3 654.4L1442.3 654.4L1441.4 654.5L1441 654.5L1439.2 654.6L1438.5 655L1437.1 655.4L1436.4 655.7L1435.3 656.1L1434 656.5L1433.1 657.5L1432.6 658.5L1434.2 659L1435.4 659.5L1436 660L1437.3 660.2L1438.9 660.4L1438.5 660.6L1440.3 660.8L1441.4 661L1440.4 661.6L1439 662.3L1439.8 662.5L1440.6 662.7L1442.5 662.9L1443.1 663.1L1443.9 663.3L1444.6 663.5L1446.4 663.7L1446.1 663.9L1444.1 664.1L1442.7 664.2L1441.8 664.4L1440.8 664.6L1440.8 664.8L1438.6 664.9L1438.1 665.1L1437.4 666.2L1437.5 667.3L1437.8 667.8L1439.4 668.2L1440 668.7L1441.4 669.2L1442.2 669.2L1443.8 669.3L1445.1 669.3L1446 669.4L1445.7 669.4L1447.3 669.4L1449 669.5L1448.7 669.5L1450 669.6L1451.5 669.6L1452.3 669.6L1453.9 669.7L1454.9 669.7L1455.5 669.8L1456.1 669.8L1457.1 669.8L1458.2 669.9L1458.9 669.9L1460.8 670L1461 670L1463.2 670L1463.8 670.1L1463.9 670.1L1465.6 670.2L1466.8 670.2L1466.9 670.2L1468.6 670.3L1468.9 670.3L1471.1 670.4L1470.9 670.4L1472.9 670.4L1474.5 670.5L1475.2 670.5L1475.3 670.6L1476.7 670.6L1477.8 670.7L1478.2 670.8L1479.5 671L1481.4 671.1L1482.3 671.2L1482 671.3L1483.7 671.5L1485.1 671.6L1485.4 671.7L1487.4 671.8L1488.6 671.9L1489 672.1L1489.8 672.2L1491 672.3L1492.7 673.1L1493.2 673.9L1494.2 674L1494.8 674.1L1495.9 674.2L1496.8 674.3L1498.9 674.4L1499.4 674.5L1500.7 674.6L1501.9 674.8L1503.2 674.9L1503 675L1504.4 675.1L1506.1 675.2L1507 675.3L1507.6 675.4L1506.4 675.4L1505.8 675.5L1504.1 675.5L1503 675.6L1501.9 675.6L1501.4 675.7L1500.1 675.7L1499.6 675.8L1499.3 675.8L1497 675.8L1496.6 675.9L1496.1 675.9L1494.7 676L1493.6 676L1492.9 676.1L1490.7 676.1L1491.2 676.1L1489.8 676.2L1489 676.2L1488 676.3L1485.8 676.3L1484.8 676.4L1484 676.4L1483.5 676.5L1483.2 676.5L1482.1 676.5L1480.3 676.6L1479.6 676.6L1478.8 676.7L1477.2 676.7L1477.2 676.8L1476.1 676.8L1474.8 676.9L1473.4 676.9L1475.1 676.9L1475.9 677L1476.7 677L1477.2 677.1L1478.2 677.1L1479.1 677.2L1479.8 677.2L1482.3 677.3L1482.3 677.4L1482.9 677.4L1484.3 677.4L1485 677.5L1486.6 677.5L1487.4 677.6L1488.2 677.6L1489.7 677.7L1490.6 677.8L1491.6 677.8L1493.3 677.8L1493.5 677.9L1494.9 677.9L1496.5 678L1497.6 678L1497.7 678.1L1498.2 678.1L1500.7 678.2L1501 678.2L1502 678.3L1500.5 678.3L1499.4 678.4L1498.5 678.4L1497.6 678.5L1496.3 678.5L1495.1 678.5L1495.6 678.6L1494.3 678.6L1492.2 678.7L1491.8 678.7L1491.2 678.7L1489.8 678.8L1488 678.8L1487.4 678.8L1486.5 678.9L1486.3 678.9L1484.8 679L1483.5 679L1482.8 679L1480.8 679.1L1480.8 679.1L1480 679.2L1478.8 679.2L1477.3 679.2L1476.1 679.3L1474.7 679.3L1473.8 679.4L1473.4 679.4L1474.1 679.8L1476 680.3L1476.9 680.3L1478.5 680.3L1478.6 680.3L1480 680.3L1481.3 680.4L1482.3 680.4L1482.3 680.4L1484.7 680.4L1485.2 680.4L1485.8 680.4L1486.7 680.4L1488.4 680.4L1489.8 680.4L1489.8 680.5L1490.9 680.5L1492.2 680.5L1492.6 680.5L1494 680.5L1495.8 680.5L1496.2 680.5L1497.7 680.5L1497.8 680.5L1499.8 680.5L1500.6 680.6L1500.7 680.6L1502.2 680.6L1503.5 680.6L1504.2 680.6L1505.3 680.6L1506.4 680.6L1506.8 680.6L1508.3 680.6L1509 680.7L1510.7 680.7L1511 680.7L1513 680.7L1513.4 680.7L1513.8 680.7L1515.1 680.7L1515.7 680.7L1517.7 680.8L1517.6 680.8L1519.5 680.8L1520 680.8L1521.8 680.8L1521.7 680.8L1523.6 680.8L1524.7 680.8L1524.9 680.9L1525.8 680.9L1527.2 680.9L1528.6 680.9L1529 680.9L1529.6 680.9L1531.3 680.9L1532.9 680.9L1532.9 681L1535.1 681L1535.4 681L1535.9 681L1536.8 681L1538.2 681L1539.4 681L1539.9 681L1540.8 681.1L1542.5 681.1L1543.1 681.1L1544.4 681.1L1545.4 681.1L1546.8 681.1L1547.6 681.1L1548.1 681.1L1549 681.1L1551.1 681.2L1550.8 681.2L1551.9 681.2L1552.9 681.2L1555.1 681.2L1555.6 681.2L1557.2 681.2L1557.8 681.2L1558.3 681.3L1559.5 681.3L1561 681.3L1561.2 681.3L1563.1 681.3L1563.5 681.3L1563.9 681.3L1565.4 681.3L1566.7 681.4L1567.1 681.4L1569.3 681.4L1570.3 681.4L1570.7 681.4L1572.3 681.4L1573 681.4L1573.7 681.4L1574.1 681.5L1576.4 681.5L1577.4 681.5L1577.6 681.5L1578.5 681.5L1579 681.5L1580.9 681.5L1582.3 681.5L1582.6 681.5L1583.4 681.6L1584.9 681.6L1586.2 681.6L1586.2 681.6L1587.4 681.6L1589 681.6L1589.1 681.6L1591.3 681.6L1591.5 681.7L1593.3 681.7L1593.7 681.7L1594.3 681.7L1595.1 681.7L1596.2 681.7L1597.5 681.7L1599.3 681.7L1600.3 681.8L1601.1 681.8L1601.6 681.8L1603.1 681.8L1604.3 681.8L1604.7 681.8L1605.2 681.8L1606.9 681.8L1607.5 681.9L1608.4 681.9L1609.8 681.9L1610.3 681.9L1612.6 681.9L1612.6 681.9L1614.6 681.9L1615.3 681.9L1615.2 682L1617.6 682L1618.5 682L1619 682L1620 682L1619.6 682L1618 682L1616.2 682L1615.4 682L1614.7 682L1614.6 682.1L1613.5 682.1L1611.4 682.1L1610.7 682.1L1609.3 682.1L1608.5 682.1L1607.7 682.1L1606.8 682.1L1605.4 682.1L1605.2 682.1L1603.5 682.1L1603.6 682.2L1601.9 682.2L1600.8 682.2L1600.4 682.2L1598.7 682.2L1597.5 682.2L1596.3 682.2L1595.6 682.2L1594.5 682.2L1594.3 682.2L1592.7 682.2L1592.2 682.2L1590.5 682.3L1589.2 682.3L1588.6 682.3L1587.7 682.3L1587.5 682.3L1585.4 682.3L1584.4 682.3L1583.3 682.3L1582.5 682.3L1582.6 682.3L1581.6 682.3L1579.4 682.4L1578.1 682.4L1577.8 682.4L1577 682.4L1575.2 682.4L1574.7 682.4L1574.3 682.4L1572 682.4L1572.2 682.4L1571.1 682.4L1570.3 682.4L1568.8 682.5L1567.8 682.5L1566.8 682.5L1565.2 682.5L1564.8 682.5L1563.8 682.5L1564.4 682.5L1565.5 682.5L1566.1 682.6L1567.3 682.6L1568.1 682.6L1569.9 682.6L1570.4 682.6L1571.9 682.6L1572.8 682.7L1573.4 682.7L1574.2 682.7L1576 682.7L1577.1 682.7L1578.2 682.8L1578.9 682.8L1580 682.8L1580.1 682.8L1581.6 682.8L1583.3 682.8L1583.7 682.9L1584.2 682.9L1585.8 682.9L1587.4 682.9L1587.2 682.9L1588.3 682.9L1589.9 683L1591.5 683L1591.7 683L1592.5 683L1594.3 683L1594.3 683.1L1595.6 683.1L1597.1 683.1L1598.5 683.1L1599.5 683.1L1599.6 683.1L1600.6 683.2L1601.7 683.2L1602.3 683.2L1603.6 683.2L1605.4 683.2L1606.7 683.2L1606.6 683.3L1607.3 683.3L1609.3 683.3L1610.7 683.3L1611.4 683.3L1611.8 683.4L1613.4 683.4L1614.4 683.4L1615.4 683.4L1616 683.4L1617.8 683.4L1618.4 683.5L1618.6 683.5L1620 683.5L1618.9 683.5L1617.3 683.5L1616.8 683.5L1616.5 683.5L1615 683.6L1614 683.6L1613.4 683.6L1611.3 683.6L1610.8 683.6L1610 683.6L1609 683.6L1608.3 683.6L1607.7 683.6L1606.5 683.7L1605.1 683.7L1604.3 683.7L1603.1 683.7L1602.8 683.7L1601.2 683.7L1600.2 683.7L1598.8 683.7L1597.9 683.7L1597.4 683.8L1595.8 683.8L1595.6 683.8L1594.4 683.8L1593.7 683.8L1592.3 683.8L1591.1 683.8L1589.8 683.8L1588.2 683.8L1588.3 683.9L1587.4 683.9L1586.4 683.9L1585.4 683.9L1583.3 683.9L1583.3 683.9L1581.6 683.9L1580.8 683.9L1580.6 684L1578.8 684L1577.9 684L1576.3 684L1575.5 684L1574.5 684L1573.5 684L1573 684L1571.3 684L1570.3 684.1L1569.3 684.1L1569.4 684.1L1568.8 684.1L1567.4 684.1L1566 684.1L1564.4 684.1L1564.5 684.1L1562.4 684.1L1561.3 684.2L1561 684.2L1560.6 684.2L1558.7 684.2L1558.6 684.2L1556.7 684.2L1556.7 684.2L1555.4 684.2L1554.6 684.2L1553.8 684.3L1552.5 684.3L1550.5 684.3L1550 684.3L1549.1 684.3L1548.4 684.3L1546.6 684.3L1546.1 684.3L1544.7 684.3L1543.5 684.4L1542.9 684.4L1542.5 684.4L1541.1 684.4L1540 684.4L1540.8 684.4L1541.6 684.4L1542.8 684.4L1543.8 684.4L1544.6 684.5L1545.7 684.5L1546.6 684.5L1547.7 684.5L1549.3 684.5L1550.2 684.5L1551.2 684.5L1552.7 684.5L1553.3 684.5L1553.4 684.6L1554.8 684.6L1556 684.6L1557.4 684.6L1558 684.6L1558.3 684.6L1560 684.6L1561.2 684.6L1562.5 684.6L1562.9 684.7L1563.5 684.7L1564.3 684.7L1566 684.7L1567.4 684.7L1567.4 684.7L1569 684.7L1570.2 684.7L1571.1 684.7L1571.6 684.8L1572.3 684.8L1573.2 684.8L1574.7 684.8L1576.6 684.8L1576.9 684.8L1578.8 684.8L1579.5 684.8L1580.1 684.8L1580.9 684.9L1582.1 684.9L1583.5 684.9L1583.7 684.9L1584.4 684.9L1586.6 684.9L1587.2 684.9L1587.8 684.9L1588.8 685L1589.4 685L1591.1 685L1592.5 685L1593 685L1594.3 685L1595.4 685L1595.7 685L1597.2 685L1598.8 685.1L1599.3 685.1L1599.5 685.1L1601.3 685.1L1602.2 685.1L1603.4 685.1L1604.3 685.1L1605.7 685.1L1606.8 685.1L1606.5 685.2L1608 685.2L1608.3 685.2L1610.8 685.2L1610.4 685.2L1611.9 685.2L1613.2 685.2L1613.9 685.2L1614.5 685.2L1616 685.3L1616.6 685.3L1618 685.3L1619.3 685.3L1620 685.3" stroke="#008000" stroke-width="2.08" fill="none" stroke-linejoin="round" />
<path d="M1620 782.3L1619.7 782.3L1618.7 782.3L1617.6 782.3L1615.3 782.3L1615.1 782.4L1613.9 782.4L1613 782.4L1611.4 782.4L1610.5 782.4L1609.9 782.4L1608.5 782.4L1607.9 782.4L1606.2 782.5L1605.3 782.5L1605.3 782.5L1603.8 782.5L1603 782.5L1602.3 782.5L1600.7 782.5L1599.2 782.5L1599.4 782.6L1598.1 782.6L1597.2 782.6L1596.1 782.6L1595.7 782.6L1593.7 782.6L1593.3 782.6L1591.7 782.6L1591 782.7L1590.1 782.7L1588.6 782.7L1587.2 782.7L1586.8 782.7L1586.2 782.7L1585 782.7L1583.8 782.8L1583.1 782.8L1581.4 782.8L1580.3 782.8L1579.6 782.8L1579.4 782.8L1577.4 782.8L1576.2 782.8L1575.2 782.9L1574.1 782.9L1573.5 782.9L1572.9 782.9L1572.3 782.9L1570.6 782.9L1569.6 782.9L1568.5 782.9L1567.5 783L1567.3 783L1565.9 783L1564.4 783L1563.8 783L1564.2 783L1566.3 783.1L1567.2 783.1L1568.4 783.1L1568.4 783.1L1570 783.2L1571.6 783.2L1572.1 783.2L1573.6 783.3L1573.4 783.3L1575.7 783.3L1575.3 783.4L1576.8 783.4L1577.2 783.4L1579.5 783.4L1580.3 783.5L1581.8 783.5L1582.5 783.5L1583.8 783.6L1584.1 783.6L1585.9 783.6L1586.5 783.7L1586.9 783.7L1588.9 783.7L1588.9 783.7L1589.7 783.8L1590.5 783.8L1592.1 783.8L1592.7 783.9L1594.9 783.9L1595.9 783.9L1595.8 784L1596.6 784L1598.3 784L1598.7 784L1600.4 784.1L1601.3 784.1L1600.8 784.1L1598.9 784.2L1598.2 784.2L1597.9 784.2L1596.2 784.3L1595 784.3L1594.9 784.3L1593.8 784.4L1592.9 784.4L1591.6 784.4L1590.1 784.5L1589.6 784.5L1588.8 784.5L1587.5 784.6L1585.8 784.6L1584.9 784.6L1584.1 784.7L1583.7 784.7L1582.3 784.7L1581.3 784.8L1580.8 784.8L1578.6 784.8L1578.4 784.9L1577 784.9L1576.3 784.9L1575.8 785L1573.8 785L1573.9 785L1571.5 785.1L1571.3 785.1L1570.3 785.1L1568.8 785.2L1568.3 785.2L1567.2 785.2L1566.1 785.3L1565.5 785.3L1563.4 785.3L1563 785.4L1562.6 785.4L1560.6 785.4L1560.8 785.5L1558.7 785.5L1558.5 785.5L1556.6 785.6L1556.1 785.6L1555 785.6L1553.5 785.7L1553.5 785.7L1552.1 785.7L1551.5 785.8L1550.2 785.8L1549.2 785.8L1548.2 785.9L1546.8 785.9L1546.8 785.9L1544.5 786L1544.7 786L1543.7 786L1542.1 786.1L1541.6 786.1L1540.4 786.1L1539.3 786.2L1537.8 786.2L1536.8 786.2L1535.9 786.3L1535.1 786.3L1535.9 786.5L1538 786.7L1538.1 786.9L1539.3 787.1L1540.5 787.4L1542.2 787.6L1542.8 787.8L1543.9 788L1545 788L1545.5 788.1L1546.6 788.1L1547.3 788.1L1548.5 788.2L1549.6 788.2L1551.5 788.2L1552 788.2L1552.4 788.3L1554 788.3L1554.4 788.3L1556.1 788.4L1557 788.4L1558.6 788.4L1558.7 788.5L1560.6 788.5L1560.7 788.5L1562.9 788.5L1563.3 788.6L1563.4 788.6L1565.6 788.6L1565.8 788.7L1566.9 788.7L1567.6 788.7L1569.7 788.8L1569.5 788.8L1571.6 788.8L1572 788.9L1573.5 788.9L1573.9 788.9L1574.6 788.9L1576.9 789L1577.5 789L1577.7 789L1580.1 789.1L1580.3 789.1L1579.9 789.1L1577.8 789.2L1576.5 789.2L1576.4 789.2L1574.7 789.2L1574.6 789.3L1573.2 789.3L1572.5 789.3L1571.3 789.4L1570.6 789.4L1569.7 789.4L1568.3 789.5L1567.3 789.5L1565.8 789.5L1564.5 789.5L1563.4 789.6L1563.6 789.6L1561.6 789.6L1560.9 789.7L1559.7 789.7L1559.2 789.7L1558.1 789.8L1557.6 789.8L1555.9 789.8L1554.7 789.8L1554.2 789.9L1553.3 789.9L1552.6 789.9L1550.6 790L1550.5 790L1549.7 790L1548.6 790.1L1546.3 790.1L1545.6 790.1L1545.3 790.1L1544.3 790.2L1542.8 790.2L1541.1 790.2L1540.6 790.3L1540.1 790.3L1539.2 790.4L1537.8 790.4L1536.3 790.5L1535.6 790.5L1534 790.6L1533.4 790.6L1532.6 790.7L1532.2 790.7L1530.8 790.8L1529.5 790.8L1528.2 790.9L1527.3 790.9L1526.9 791L1525.5 791L1524.1 791.1L1524.1 791.1L1522.7 791.2L1522.3 791.2L1520.6 791.3L1519.7 791.3L1518.4 791.4L1517.7 791.4L1517.2 791.5L1516.2 791.5L1514.7 791.6L1513.3 791.6L1511.7 791.7L1512 791.7L1510.2 791.8L1509.2 791.8L1507.7 791.9L1506.6 791.9L1506.2 792L1506.1 792L1504.7 792.1L1503.7 792.1L1502.6 792.2L1500.9 792.2L1499.8 792.3L1499.4 792.3L1497.6 792.4L1497.4 792.4L1496.3 792.5L1495.3 792.5L1493.6 792.6L1493.2 792.6L1493.6 792.9L1495.4 793.2L1495.9 793.5L1497.8 793.8L1498.7 794.1L1499.5 794.3L1501.1 794.6L1502.4 794.8L1503.3 795L1504.3 795.2L1504.9 795.5L1506.5 795.7L1507.4 796.4L1509.5 797.2L1509.8 797.9L1510.5 798.1L1511.6 798.3L1512.9 798.5L1514.1 798.6L1515.5 798.8L1515.8 799L1517.9 799.2L1517.4 799.4L1519.7 799.5L1520.4 799.7L1522 799.9L1522.4 800.1L1520.8 800.2L1520.6 800.3L1519.9 800.4L1518.4 800.6L1516.5 800.7L1516.7 800.8L1515.7 800.9L1513.3 801L1513.4 801.1L1511.1 801.2L1510.1 801.3L1510.2 801.5L1509 801.6L1508.3 801.7L1506.5 801.8L1507.7 802L1508.5 802.2L1509.1 802.4L1510.6 802.6L1512.3 802.8L1512.7 803L1514.1 803.2L1514 803.4L1515.9 803.6L1516.9 803.8L1517.5 804L1515.7 804.3L1515.8 804.6L1513.7 805L1512.6 805.3L1512 805.6L1512.3 805.7L1514.3 805.8L1514.5 805.8L1516.8 805.9L1516.3 806L1518.6 806.1L1519.5 806.1L1520.2 806.2L1521.3 806.3L1522.6 806.4L1523.4 806.4L1523.6 806.5L1525.7 806.6L1526 806.7L1527.4 806.8L1528.3 806.8L1529.9 806.9L1530.1 807L1531.9 807.1L1531.6 807.1L1533 807.2L1534.6 807.3L1535.5 807.4L1536.9 807.4L1536.9 807.5L1538.4 807.6L1537.9 807.7L1536.9 807.9L1534.8 808L1533.8 808.1L1533.5 808.3L1533.1 808.4L1531.5 808.5L1530.2 808.7L1529.3 808.8L1528.8 808.9L1527.3 809.1L1526.3 809.2L1525.4 809.3L1524.4 809.5L1524 809.6L1522.8 809.7L1521.8 809.8L1519.9 810L1519.5 810.1L1518.8 810.2L1517.6 810.3L1517 810.5L1515.3 810.6L1517.1 811L1516.9 811.5L1518.6 811.9L1519.5 812.4L1520.8 812.8L1519.3 812.8L1518.7 812.9L1518.5 812.9L1517.1 813L1515 813L1514.2 813.1L1513.3 813.1L1513.1 813.1L1511.4 813.2L1509.9 813.2L1509.5 813.3L1507.9 813.3L1506.6 813.4L1506.4 813.4L1506 813.5L1504.2 813.5L1503.7 813.9L1502.7 814.3L1500.8 814.7L1500.4 815L1499.6 815.4L1498.8 815.8L1497.4 816.2L1496.5 816.6L1494.8 817L1495.2 817.3L1493.1 817.7L1492.9 818.1L1491.4 818.4L1490.5 818.8L1490 819.2L1488.4 819.6L1487 820L1486.6 820.4L1485.8 820.8L1485.3 821.1L1483.8 821.5L1483.2 821.9L1481.8 822.3L1481.1 822.7L1482.4 823.2L1482.5 823.6L1484.6 824L1485 824.5L1486.7 824.8L1486.3 825L1488.6 825.2L1489.5 825.5L1490.4 825.8L1490.5 826L1492.5 826.2L1493.2 826.5L1493.2 828.2L1492.6 828.4L1491.3 828.6L1490.8 828.8L1489.7 828.9L1488.1 829.1L1487.5 829.3L1485.2 829.5L1484.4 829.7L1483.7 829.9L1482.7 830L1482.3 830.2L1480.5 830.4L1481.8 830.6L1482.8 830.9L1483.9 831.1L1485.5 831.3L1485.7 831.5L1487.3 831.8L1488 832L1489.2 832.2L1490 832.5L1490.9 832.7L1491.7 833L1492.5 833.2L1494.1 833.5L1495.4 833.7L1495.6 834.8L1496.5 835.9L1496.8 836L1498.5 836L1499.3 836.1L1501.3 836.2L1502 836.3L1502.9 836.3L1504.2 836.4L1504.3 836.5L1505.1 836.6L1506.9 836.6L1507.3 836.7L1509.5 836.8L1509.6 836.8L1511.4 836.9L1511.4 837L1512.2 837.1L1514 837.1L1515.2 837.2L1515.5 837.3L1517.6 837.4L1518.7 837.4L1519.2 837.5L1520.7 837.6L1521.7 837.7L1521.4 837.7L1523 837.8L1522.4 837.9L1521.4 838L1520.3 838L1518.7 838.1L1518 838.2L1517.1 838.3L1516.5 838.4L1514.2 838.5L1513.7 838.5L1512.6 838.6L1512.3 838.7L1510.2 838.8L1509.1 838.9L1508.2 839L1507.2 839L1506.7 839.1L1506.4 839.2L1504.5 839.3L1503.1 839.4L1503 839.5L1501.5 839.5L1500.8 839.6L1500.1 839.7L1498.7 839.8L1499.7 839.9L1501.1 840L1502 840.1L1503.4 840.2L1504.3 840.3L1505.5 840.3L1506.3 840.4L1506.6 840.5L1508 840.6L1509.4 840.7L1510 840.8L1511.5 840.9L1512.4 840.9L1513.6 841L1514.6 841.1L1515.2 841.2L1516.3 841.2L1516.4 841.3L1518.1 841.4L1519.5 841.5L1520.8 841.5L1521.8 841.6L1522.1 841.7L1522.8 841.8L1524.9 841.9L1525.5 841.9L1526.3 842L1526.7 842.5L1527.4 843.1L1529.7 843.6L1530.1 844.2L1530.3 844.8L1531.8 845.3L1533.6 845.3L1534 845.4L1535.2 845.4L1536.3 845.4L1536.4 845.5L1537.9 845.5L1538.3 845.6L1540 845.6L1540.8 845.6L1542.3 845.7L1542.3 845.7L1543.4 845.7L1544.7 845.8L1545.1 845.8L1546.7 845.9L1548.6 845.9L1549.5 845.9L1549.4 846L1551.5 846L1551.5 846L1552.5 846.1L1554.2 846.1L1554.6 846.1L1555.5 846.2L1556.3 846.2L1557.5 846.3L1558.5 846.3L1560.6 846.3L1560.3 846.4L1562.1 846.4L1562.5 846.4L1564.4 846.5L1564.2 846.5L1565.8 846.6L1567.4 846.6L1567.3 846.6L1568.9 846.7L1569.8 846.7L1571 846.7L1572.3 846.8L1572.4 846.8L1574.7 846.9L1574.7 846.9L1576.5 846.9L1576.5 847L1578.1 847L1578.5 847.2L1579.6 847.4L1580.5 847.6L1581.8 847.8L1582.6 848L1583.6 848.1L1585.8 848.3L1586.3 848.5L1587.3 848.7L1588.3 848.9L1589.8 849.1L1589.6 849.3L1590.6 849.5L1592.6 849.7L1592.6 849.8L1594.4 850L1595.6 850.2L1597 850.4L1596.7 850.6L1598.5 850.8L1597.3 850.8L1596.2 850.9L1595.6 850.9L1593.7 851L1593.8 851L1593.1 851.1L1591.4 851.1L1590.6 851.2L1589.9 851.2L1588.8 851.3L1587.8 851.4L1586.2 851.4L1584.6 851.4L1584.7 851.5L1583.7 851.5L1582.5 851.6L1580.9 851.6L1580.9 851.7L1579.3 851.8L1577.8 851.8L1577.5 851.9L1575.6 851.9L1574.6 851.9L1574.7 852L1572.3 852L1572.6 852.1L1570.8 852.1L1570 852.2L1569.2 852.2L1568.5 852.3L1566.4 852.4L1565.2 852.4L1564.8 852.5L1563.8 852.5L1562.3 852.6L1561.6 852.6L1560 852.7L1559 852.8L1558.7 852.9L1556.8 852.9L1556.1 853L1555.3 853.1L1553.8 853.1L1553.8 853.2L1553 853.3L1550.5 853.4L1550.7 853.4L1548.7 853.5L1548.5 853.6L1546.4 853.7L1546.4 853.7L1545 853.8L1544.7 853.9L1542.6 853.9L1541.4 854L1540.7 854L1540.5 854.1L1539.3 854.1L1537.3 854.2L1537.5 854.2L1536.2 854.3L1535.5 854.3L1534.6 854.4L1532.2 854.4L1532.1 854.5L1530 854.5L1529.2 854.6L1528.8 854.6L1527.3 854.7L1526.2 854.7L1525.4 854.8L1524.6 854.8L1524.3 854.9L1522.7 854.9L1521.7 855L1520.9 855L1519 855.1L1519 855.1L1517.5 855.2L1519 855.6L1520.2 855.9L1520.7 856.3L1522 856.7L1522.3 857L1524.1 857.4L1525 857.7L1526.3 857.9L1527.8 858.2L1528.6 858.5L1528.7 858.7L1530.4 859L1531.5 859.3L1532.7 859.5L1532.9 859.8L1532.2 859.9L1530.6 860L1530.4 860.1L1528 860.2L1527.9 860.3L1526.7 860.4L1526.3 860.5L1524.9 860.6L1523.2 860.7L1522.1 860.8L1520.9 860.9L1521 861L1520 861.1L1518.3 861.2L1517.5 861.3L1518.1 861.4L1519.6 861.5L1520 861.7L1521.6 861.8L1522.3 861.9L1523.3 862L1524.9 862.2L1525.2 862.3L1526.3 862.4L1527.7 862.5L1529.3 862.6L1529.1 862.8L1530.3 862.9L1531.3 863L1532.4 863.1L1533.7 863.3L1535.2 863.4L1535.7 863.5L1534.2 863.6L1534 863.6L1532.6 863.7L1531.8 863.7L1530.7 863.8L1529.8 863.8L1528.1 863.9L1527.8 863.9L1526.5 864L1526.1 864L1524.7 864.1L1523.4 864.1L1523.3 864.2L1521 864.2L1519.8 864.3L1518.9 864.4L1518.8 864.4L1516.9 864.5L1516.9 864.5L1514.8 864.6L1514.2 864.6L1513.7 864.7L1511.7 864.7L1511.4 864.8L1511.2 864.8L1509.8 864.9L1508.3 864.9L1508.1 865L1506.5 865L1505.4 865.1L1506.9 865.2L1507.2 865.3L1508.3 865.4L1509.8 865.5L1510.9 865.6L1511.8 865.7L1512 865.8L1513.4 865.9L1514.3 866L1515.1 866.2L1516 866.3L1518 866.4L1518 866.5L1519.4 866.6L1519.9 866.7L1522 866.8L1522.9 866.9L1523 867L1524.7 867.1L1524.4 867.2L1523.4 867.3L1522 867.4L1521 867.5L1519.8 867.6L1517.7 867.7L1517 867.8L1515.9 867.9L1514.5 868L1514.5 868.2L1513.4 868.3L1511.9 868.4L1511.5 868.5L1509.7 868.6L1508.7 868.7L1507.4 868.8L1506.5 868.9L1505.9 869L1507.5 869.4L1507.9 869.8L1509.3 870.2L1510.6 870.6L1511 871L1512.3 871.3L1512.9 871.6L1515 872L1514.7 872.3L1516.3 872.6L1517.5 872.9L1519.1 872.9L1519.8 873L1520.3 873L1522.1 873.1L1523 873.1L1523.9 873.2L1524.2 873.2L1525.9 873.3L1526.9 873.3L1528.2 873.3L1528.7 873.4L1530.3 873.4L1531 873.5L1531.2 873.5L1532.8 873.6L1533.2 873.6L1534.9 873.6L1535.4 873.7L1537.5 873.7L1537.5 873.8L1539.2 873.8L1540.3 873.9L1540.6 873.9L1541.9 874L1542.8 874L1543.4 874.1L1544.7 874.2L1545.8 874.2L1547.2 874.3L1548 874.4L1548.4 874.5L1550.2 874.5L1551 874.6L1552.1 874.7L1553 874.8L1554.7 874.8L1555.4 874.9L1556.4 875L1557.2 875.1L1558.1 875.1L1559.1 875.2L1560.6 875.3L1561.2 875.4L1561.6 875.4L1562.9 875.5L1563.7 875.6L1564.7 875.7L1566.2 875.7L1567.3 875.8L1568.4 875.9L1569 876L1570.1 876L1571.5 876.1L1572.6 876.2L1571.3 876.3L1570.2 876.3L1569.6 876.4L1569 876.5L1566.9 876.5L1565.8 876.6L1565.5 876.7L1565.2 876.7L1563.7 876.8L1562.3 876.9L1562.3 876.9L1560.8 877L1560 877.1L1559 877.1L1556.7 877.2L1556 877.3L1555.9 877.3L1554.3 877.4L1554.1 877.5L1551.7 877.5L1552.1 877.6L1550.6 877.7L1549.3 877.7L1548.4 877.8L1549.9 877.8L1550.5 877.9L1551.4 877.9L1552 877.9L1553.9 877.9L1553.9 878L1555.2 878L1555.9 878L1556.8 878.1L1558.3 878.1L1558.9 878.1L1560.6 878.1L1561.4 878.2L1561.9 878.2L1563.6 878.2L1564.3 878.3L1565.3 878.3L1566.8 878.3L1567.5 878.3L1568 878.4L1570.5 878.4L1571.5 878.4L1571.4 878.4L1573.1 878.5L1574 878.5L1574.5 878.5L1575.9 878.6L1576.5 878.6L1577.6 878.6L1578.9 878.6L1579.2 878.7L1580.5 878.7L1582.8 878.7L1583.4 878.8L1583.8 878.8L1585.8 878.8L1585.8 878.8L1587.6 878.9L1588.1 878.9L1588.8 878.9L1590.8 878.9L1591.1 879L1592.8 879L1592.7 879L1594.1 879L1595.1 879.1L1596.8 879.1L1597.9 879.1L1597.8 879.1L1599.3 879.1L1599.9 879.2L1600.8 879.2L1601.9 879.2L1602.9 879.2L1604.2 879.3L1605.5 879.3L1607.3 879.3L1607.9 879.3L1609.1 879.4L1609.4 879.4L1610.5 879.4L1611.6 879.4L1612.4 879.4L1613.1 879.5L1614.5 879.5L1616.6 879.5L1616.2 879.5L1617.9 879.6L1618.5 879.6L1620 879.6" stroke="#008000" stroke-width="2.08" fill="none" stroke-linejoin="round" />
<path d="M1620 888.3L1542.3 891L1599 892.2L1576 893.3L1620 894L1574.8 894.9L1620 896" stroke="#008000" stroke-width="2.08" fill="none" stroke-linejoin="round" />
<path d="M1620 898.8L1570.4 901.5L1558.8 903.7L1564.9 905.9L1620 907.4" stroke="#008000" stroke-width="2.08" fill="none" stroke-linejoin="round" />
<path d="M1620 931.3L1619.4 931.3L1617.5 931.3L1616.5 931.3L1616.1 931.3L1614.3 931.3L1614.4 931.4L1613.4 931.4L1611.2 931.4L1611.2 931.4L1609.9 931.4L1609.2 931.4L1608.7 931.4L1607.7 931.4L1605.8 931.4L1605.5 931.4L1604.4 931.5L1603.7 931.5L1601.1 931.5L1601.6 931.5L1599.4 931.5L1598.3 931.5L1598 931.5L1597.4 931.5L1596.6 931.5L1594.6 931.5L1594.4 931.5L1592.1 931.6L1592.6 931.6L1590.5 931.6L1589.9 931.6L1588.2 931.6L1587.1 931.6L1586 931.6L1586 931.6L1584.9 931.6L1584.3 931.6L1583.3 931.7L1581.7 931.7L1581.3 931.7L1579.3 931.7L1579.4 931.7L1577.4 931.7L1577.5 931.7L1575.6 931.7L1574.6 931.7L1573.8 931.7L1572 931.7L1571 931.8L1570.8 931.8L1570.1 931.8L1568 931.8L1567.5 931.8L1566.5 931.8L1566.1 931.8L1565.5 931.8L1563 931.8L1562.7 931.8L1561 931.9L1561.1 931.9L1560.4 931.9L1559 931.9L1557.8 931.9L1555.9 931.9L1555 931.9L1554.2 931.9L1552.9 931.9L1552 931.9L1552.3 931.9L1550.4 932L1550.2 932L1549 932L1548 932L1547.2 932L1545.9 932L1544.3 932L1543.5 932L1542.4 932L1540.8 932L1539.8 932L1539.6 932.1L1538.6 932.1L1538.3 932.1L1536.7 932.1L1536 932.1L1534.5 932.1L1533.6 932.1L1533 932.1L1530.7 932.1L1529.7 932.1L1529.4 932.2L1528.1 932.2L1527.3 932.2L1525.8 932.2L1524.9 932.2L1523.8 932.2L1523.6 932.2L1521.7 932.2L1520.7 932.2L1520.7 932.2L1519.3 932.2L1517.6 932.3L1518.1 932.3L1516.4 932.3L1516.1 932.3L1514.6 932.3L1513.5 932.3L1512.2 932.3L1510.7 932.3L1511.1 932.3L1509.3 932.3L1508 932.4L1506.8 932.4L1506.5 932.4L1506.1 932.4L1504.2 932.4L1503.8 932.4L1502.6 932.4L1501.3 932.4L1500.6 932.4L1499.7 932.4L1499 932.4L1496.6 932.5L1495.7 932.5L1494.9 932.5L1493.6 932.5L1492.9 932.5L1492.2 932.5L1490.8 932.5L1490.2 932.5L1488.5 932.5L1488.9 932.5L1487.6 932.6L1485.6 932.6L1484.8 932.6L1484.6 932.6L1482.6 932.6L1482.2 932.6L1481.6 932.9L1479.4 933.1L1479.4 933.4L1478.5 933.6L1477.2 933.9L1476.6 934.2L1475.8 934.4L1474.9 934.7L1472.4 934.9L1472.1 935.2L1470.5 935.4L1470.1 935.7L1469.5 935.9L1467.6 936.1L1466.6 936.4L1465.4 936.6L1464.3 936.8L1463.7 937L1462.6 937.2L1462.1 937.5L1461.6 937.7L1460.1 937.9L1461.5 938.1L1461.8 938.2L1462.7 938.4L1464.5 938.5L1464.7 938.7L1466.3 938.9L1467.9 939L1468.2 939.2L1469.1 939.3L1470.1 939.5L1471.2 941L1469.5 941.1L1468.8 941.1L1468.9 941.2L1466.5 941.2L1465.5 941.3L1465.3 941.4L1463.9 941.4L1463.3 941.5L1461.7 941.5L1460.7 941.6L1459.8 941.6L1459.5 941.7L1458.5 941.8L1456.4 941.8L1456.5 941.9L1455.5 941.9L1454.1 942L1452.5 942.1L1451.3 942.1L1451.9 942.2L1449.5 942.2L1449.1 942.3L1449.3 942.3L1450.4 942.4L1452.8 942.4L1453.9 942.5L1454.5 942.5L1455.8 942.5L1456.6 942.6L1456.4 942.6L1457.9 942.6L1459.3 942.7L1460.4 942.7L1461.5 942.8L1462.4 942.8L1462.5 942.8L1464 942.9L1465.9 942.9L1466.4 943L1466.6 943L1468 943L1469.9 943.1L1469.8 943.1L1470.5 943.1L1472.7 943.2L1473.4 943.2L1473.9 943.3L1475.1 943.3L1475.8 943.3L1477.5 943.4L1477.8 943.4L1479.3 943.5L1480.8 943.5L1481.4 943.5L1481.9 943.6L1482.6 943.6L1484.2 943.7L1484.5 943.7L1486.6 943.7L1487.1 943.8L1488.1 943.8L1488.9 943.8L1490.5 943.9L1491.1 943.9L1492.1 944L1493.2 944L1493.8 944.1L1494.7 944.2L1495.8 944.3L1497.1 944.4L1499 944.5L1499.9 944.6L1500.3 944.7L1501.1 944.8L1502.6 944.9L1504 945" stroke="#008000" stroke-width="2.08" fill="none" stroke-linejoin="round" />
<path d="M1462.3 954.5L1553.9 955.5L1462.3 956L1537.3 957.6L1446.9 958.7L1436.4 960.4L1443.6 962L1441.4 963.2L1419.3 964L1416 965.4L1413.3 968.7L1412.2 972" stroke="#008000" stroke-width="2.08" fill="none" stroke-linejoin="round" />
<path d="M1412.2 1036L1416 1037L1441.4 1039.2L1441.4 1040.9L1423.7 1042.6L1422.6 1045.9L1421.5 1050.3L1418.8 1055.8L1421 1058L1417.7 1061.3L1420.4 1065.7L1424.8 1067.9L1440 1068.6" stroke="#008000" stroke-width="2.08" fill="none" stroke-linejoin="round" />
<path d="M1452.3 1091.5L1445 1092.5L1452.3 1093L1446.8 1094.8L1438 1096.5L1435.3 1098.7L1433.8 1108L1432.5 1124.5L1432 1136.6L1429.8 1143.2L1428.1 1152L1427 1167.4L1425.9 1169L1423.7 1179.5L1422.1 1187.2L1419.3 1190.5L1414.9 1193.3L1412.2 1197.1" stroke="#008000" stroke-width="2.08" fill="none" stroke-linejoin="round" />
<path d="M1412 228.4H1616" stroke="#ff0000" stroke-width="3.6" fill="none" />
<path d="M1412 335.1H1616M1461 414.1H1552.8M1412 1021H1616M1412 1025.1H1616" stroke="#ff0000" stroke-width="2" fill="none" />
<path d="M1412 342H1616M1412 421.4H1616" stroke="#ff0000" stroke-width="2.6" fill="none" />
<path d="M1412 397H1616" stroke="#ff0000" stroke-width="5.2" fill="none" />
<path d="M1459 399.5H1477M1412 982.7H1522" stroke="#ff0000" stroke-width="3" fill="none" />
<path d="M1412 403.4H1616M1412 643.3H1616" stroke="#ff0000" stroke-width="3.2" fill="none" />
<path d="M1412 408.9H1616" stroke="#ff0000" stroke-width="3.3" fill="none" />
<path d="M1448 417.4H1496.5" stroke="#ff0000" stroke-width="2.8" fill="none" />
<path d="M1412 542.4H1616M1412 544.3H1616M1412 546.5H1616M1412 548.5H1616" stroke="#ff0000" stroke-width="1.3" fill="none" />
<path d="M1412 636.4H1616" stroke="#ff0000" stroke-width="1.4" fill="none" />
<path d="M1412 1003.5H1616" stroke="#ff0000" stroke-width="6.6" fill="none" />
<path d="M1548.4 1023H1616" stroke="#ff0000" stroke-width="2.4" fill="none" />
<path d="M1412 976.4H1462M1529 962.6H1616" stroke="#ff0000" stroke-width="2.5" fill="none" />
<path d="M1599 949.5H1616" stroke="#ff0000" stroke-width="5.6" fill="none" />
<path d="M1421.5 123.5L1422 130L1424.3 135.6L1421.5 140L1418.2 145.5L1416 154L1416 159.8L1419.3 164.2L1427 168.6L1465.5 174.1L1427 176.3L1422.6 179.6L1438 183.5L1479.8 186.8L1412.2 188.4L1412.2 195L1471 195.6L1412.2 197.5L1557.9 199.4L1412.2 200.8L1475.4 201.6L1420 203L1473.8 204.4L1412.2 206L1412.2 216.5L1430.4 218L1414 219L1447.5 220.1L1415 222.1L1412.2 223.7L1412.2 230.5L1498.2 232L1413.8 233.1L1418.8 235.3L1416 237.5L1423.2 240.3L1419.3 242.5L1428.2 244.1L1421.5 245.8L1427 248L1418.2 249.6L1421.5 251.8L1419.3 255.1L1421 258.4L1419.9 261.8L1422.6 264L1424.8 266.7L1422.6 268.4L1424.8 270L1421.5 272.8L1417.1 276.1L1414.9 279.4L1418.2 282.7L1422.1 286.6L1419.3 289.3L1412.7 291.3L1412.2 293.7L1416 295.4L1419.3 297L1415.5 298.2L1417.1 300.4L1414.4 303.7L1412.7 307.5L1412.2 309.2L1451.3 310.3L1432.6 311.6L1424.3 313L1432.6 315.2L1427 316.9L1434.8 318.5L1430.4 320.8L1442.5 322.6L1412.2 324.4L1438 325.2L1412.7 327.9L1427 329L1429.8 330.7L1419.3 331.8L1418 334.4L1417 336L1417.1 337.5L1438 340.1L1414 341.3L1412.2 343.4L1412.2 351.5L1469.5 353.2L1430 354.5L1425.4 356.5L1440.3 358.2L1430.4 359.3L1442.5 360.7L1424.3 363.2L1430.4 365.1L1424.8 367L1422.1 368.9L1438 370.7L1432.6 372.2L1465.7 373.4L1433.1 375.1L1444.7 376.4L1462.3 377.8L1439.2 379.2L1454.6 381.7L1431.5 383.9L1449.1 384.7L1481.6 386L1454.6 387.4L1443.6 388.5L1453.5 390.2L1436.4 391.3L1466.8 393L1452 394L1470 396" stroke="#ff0000" stroke-width="2.08" fill="none" stroke-linejoin="round" />
<path d="M1620 556.5L1603.5 557L1620 559.8L1582.5 562L1620 563.6L1620 565.3L1565.5 567L1578.1 568.6L1559.4 570.8L1581.4 572.5L1575.9 574.1L1556.1 575.2L1533.5 578L1540.6 579.6L1545 581L1530.7 583L1525.2 584.3L1540.1 586.2L1530.7 588.4L1520.8 590.1L1522.4 592.9L1536.2 594L1534.6 595.8L1555 596L1620 597.6" stroke="#ff0000" stroke-width="2.08" fill="none" stroke-linejoin="round" />
<path d="M1620 602.8L1557.2 603.5L1514.2 606.1L1570 607.5L1620 608.6" stroke="#ff0000" stroke-width="2.08" fill="none" stroke-linejoin="round" />
<path d="M1620 616L1570.4 617L1600 618.2L1522.4 621L1571.5 622.6L1504.8 624.6L1528.5 626.5L1588.1 627L1531.8 629.3L1600.2 630L1547.3 631.5L1620 632.2" stroke="#ff0000" stroke-width="2.08" fill="none" stroke-linejoin="round" />
<path d="M1412.2 1037L1418.2 1041.5L1421.5 1045.9L1426.5 1051.9L1423.7 1056.9L1421.5 1061.3L1416 1065.7L1412.2 1069.6" stroke="#ff0000" stroke-width="2.08" fill="none" stroke-linejoin="round" />
<path d="M1412.2 1076.3L1416.6 1078.3L1419.3 1082.7L1429.2 1088.2L1427.5 1091.5L1426.5 1095.9L1429.2 1102.5L1431.4 1113.5L1432.5 1130L1433.8 1146.5L1435.3 1157.5L1435.8 1168.5L1436.9 1179.5L1438.6 1185L1442.4 1189.4L1449 1191.6L1464.4 1193.3L1484.2 1194.4L1493 1196L1498.5 1196.9L1588.2 1197.4" stroke="#ff0000" stroke-width="2.08" fill="none" stroke-linejoin="round" />
<path d="M1620 647.8L1537.3 649.7L1490.5 651.9L1498.7 653.5L1475.6 654L1471.2 656.8L1467.3 658.8L1475.6 660.7L1473 662.5L1476.1 664L1470.1 666.7L1473.5 668L1476.7 669L1492.1 671.2L1492.1 671.2L1491.7 672.6L1491.3 674.1L1492.1 675.5L1491 676.2L1488.1 677L1487.7 677.7L1489.3 678L1490.3 678.3L1491.1 678.6L1493.6 678.9L1494 679.3L1496.4 679.6L1497 679.9L1498.5 680.2L1501 680.5L1499.3 681.3L1498.8 682.2L1496.5 683L1497.1 683.1L1498.8 683.3L1501.3 683.4L1503.5 683.5L1504.1 683.7L1505.4 683.8L1506.5 684.2L1509.2 684.6L1508.3 685.1L1511.6 685.5L1511.6 685.9L1512.6 686.3L1513.9 686.8L1515.7 687.2L1517.5 687.6L1516.8 687.8L1513.8 688L1513.4 688.1L1512 688.3L1510 688.5L1508.9 688.7L1506.3 688.8L1504.9 689L1503.8 689.2L1503.5 689.4L1501.4 689.5L1499.7 689.7L1498.7 689.9L1500.3 690.3L1501.3 690.6L1502.3 691L1504.8 691.4L1506 691.7L1506.2 692.1L1508.4 692.5L1509.6 692.8L1510.9 693.2L1510.4 693.3L1508.6 693.4L1506.1 693.5L1506.3 693.6L1502.8 693.8L1502.1 693.9L1501.4 694L1498.5 694.1L1497.9 694.2L1496.5 694.3L1496.5 696.5L1496.8 696.6L1499.8 696.8L1501.4 696.9L1502.4 697.1L1504.5 697.2L1504.6 697.4L1506.5 697.5L1508.4 698.3L1509.7 699L1510.9 699.8L1509.6 700.3L1507.8 700.9L1507.3 701.5L1506 702L1503.4 702.5L1502 703.1L1503.8 703.2L1503.9 703.3L1506.8 703.4L1508.2 703.5L1510.4 703.6L1511.5 703.7L1511.7 703.8L1513.3 703.9L1515.5 704L1515.4 704.2L1517.9 704.3L1518.6 704.4L1520 704.5L1521.3 704.6L1524.4 704.7L1524.4 704.8L1526.1 704.9L1527.9 705L1529.6 705.1L1529.1 705.3L1525.7 705.6L1525.2 705.8L1524 706.1L1523.4 706.3L1521.8 706.5L1520.5 706.8L1517.6 707L1516.5 707.3L1515.3 707.5L1513.9 708.5L1514 709.5L1513.1 710.4L1510.9 711.4L1511.5 711.7L1513 711.9L1514.6 712.2L1516.1 712.5L1518.1 712.8L1519.9 713L1520.5 713.3L1521.4 713.6L1523.8 713.8L1525.2 714.1L1527.1 714.4L1529.5 714.7L1530.3 714.9L1531.3 715.2L1529.8 715.6L1528.4 715.9L1527 716.3L1524 716.7L1524.4 717L1521.9 717.4L1522.8 719L1522.4 720.7L1524.8 721L1526.1 721.4L1526.6 721.7L1528.1 722L1528.9 722.4L1531.7 722.7L1531.8 723L1533.3 723.3L1535.1 723.7L1537.3 724L1537.9 724.4L1539.8 724.8L1540.5 725.2L1541.9 725.6L1544.5 726L1542.3 726.2L1540.7 726.4L1539.9 726.6L1537.7 726.8L1538.3 727.1L1536.3 727.3L1533.8 727.5L1532.6 727.7L1531.8 727.9L1532.8 728.2L1534.3 728.5L1535.1 728.8L1538.3 729.2L1540.1 729.5L1540.2 729.8L1541.7 730.1L1540.2 730.4L1537.8 730.7L1536.3 730.9L1535.5 731.2L1533.8 731.5L1533.7 731.8L1530.6 732L1528.8 732.3L1528.5 732.6L1531 732.8L1531.4 733.1L1532 733.3L1534.3 733.6L1534.5 733.8L1537.2 734L1539.7 734.3L1540.8 734.5L1541.9 734.8L1542.3 735L1543.9 735.2L1544.9 735.5L1547.8 735.7L1548.6 736L1550 736.2L1549.2 736.5L1546.6 736.7L1544.9 737L1544.8 737.3L1543.7 737.5L1541.9 737.8L1540.3 738.1L1538.8 738.4L1537.2 738.6L1535.1 738.9L1533.1 739.4L1532.4 739.9L1530.6 740.4L1528.5 740.8L1527.1 741.3L1526.3 741.8L1524.9 742.3L1524.1 742.8L1524 744.5L1523 746.1L1525.7 746.6L1526.2 747.2L1529 747.8L1529.6 748.3L1529.3 748.6L1527.8 749L1524.9 749.3L1523.1 749.6L1521.6 750L1520.8 750.3L1521.4 750.6L1522.8 750.8L1525.2 751.1L1527.3 751.4L1528.5 751.7L1529 752L1530.8 752.2L1531.8 752.5L1531.1 753L1527.9 753.5L1527.8 754L1526.9 754.5L1525.1 755L1523 755.5L1525.1 756.2L1526 756.9L1526.8 757.5L1529.1 758.2L1528.3 759L1525.6 759.8L1525.2 760.5L1523 761.3L1525.8 762.5L1526.3 763.7L1527 764.8L1527.9 765.9L1529.1 767L1528.7 767.7L1526.8 768.4L1524 769L1522.4 769.7L1521.9 770.4L1520 771.8L1519.7 773.1L1521.8 774.8L1521.9 776.4L1521.3 777L1518.4 777.5L1518.7 778.1L1517.8 778.6L1515.3 779.2L1514.1 779.9L1511.9 780.5L1510.8 781.2L1508.3 781.8L1507.6 782.5L1505.5 784L1506.9 785.4L1504.8 786.9L1506 788.3L1506.5 789.7L1505 790.2L1504.4 790.8L1501.7 791.3L1501.2 791.9L1498.7 792.4L1500.6 793.9L1500.2 795.3L1502 796.8L1502.5 798.5L1504.2 800.1L1503.2 801.8L1503.1 803.4L1503.2 804.7L1504.8 806L1505.4 807.3L1504 808.5L1503.5 809.8L1502 811L1502 812.3L1502.3 813.7L1500.2 815.2L1499.8 816.6L1499.2 817.9L1498.9 819.2L1499.2 820.6L1497.4 821.9L1497.1 823.2L1498.7 824.9L1498.2 826.5L1498.8 828.1L1499.3 829.8L1500.2 831.1L1499.8 832.4L1501.6 833.7L1501.8 835L1502.2 836.3L1504.2 837.6L1505.1 839L1503.8 840.4L1504.7 841.8L1505.4 843.3L1505.2 844.7L1504.8 846.1L1505.4 847.5L1504.6 848.8L1503.9 850.1L1503.6 851.4L1501.1 852.6L1501.4 853.9L1500.4 855.2L1499.7 856.7L1499.6 858.3L1500.7 859.8L1499.9 861.4L1499.8 862.9L1499.3 864.4L1499.1 866L1498.8 867.5L1497.1 869L1497.6 870.2L1498.7 871.5L1499.1 872.8L1499.8 874L1500.8 875.2L1502.2 876.3L1502.6 877.5L1503.7 878.7L1504.5 879.9L1506.6 881L1506.5 882.2L1506.2 883.9L1505.9 885.5L1504.2 887.2L1504.2 888.5L1501.4 889.7L1500.9 891L1502.1 892L1504 893.1L1504.8 894.1L1504.1 895.1L1505.1 896.1L1506.9 897.2L1508.1 898.2L1506.9 900L1507.1 901.9L1507.6 903.7L1508.1 904.4L1511.1 905L1512.9 905.7L1514.7 906.3L1515.3 907L1515.8 907.4L1518.6 907.9L1519.8 908.3L1519.9 908.7L1523.1 909.1L1524.7 909.5L1524.3 910L1526.3 910.4L1528.9 910.8L1529.1 911.3L1530.9 911.7L1533.6 912.2L1534 912.6L1533.3 913.5L1530.3 914.4L1529.6 915.3L1528.1 916.3L1526.9 917.2L1525.1 918.2L1524.1 919.2L1522.1 919.8L1521.2 920.5L1520.9 921.1L1517.9 921.7L1517.9 922.3L1516.4 923L1515.3 923.6L1515.6 923.8L1517.8 924L1520 924.2L1521.1 924.4L1521.5 924.6L1525.2 924.8L1526.2 925L1528.1 925.2L1527.4 925.4L1529.3 925.6L1531.3 925.8L1528.8 926.1L1529.1 926.4L1526.5 926.7L1524.8 927L1524.1 927.3L1523.8 927.6L1522.2 927.9L1519.4 928.2L1518.6 928.5L1519.2 928.8L1522.5 929.1L1523.2 929.4L1524.9 929.6L1524.9 929.9L1526.3 930.2L1529.3 930.5L1530.2 930.8L1530.8 931L1534.3 931.3L1535.1 931.6L1536.2 931.9L1535.5 932.1L1532.4 932.4L1532.9 932.6L1529.6 932.9L1530.1 933.1L1527.7 933.4L1526 933.6L1525.1 933.9L1524.6 934.1L1521.6 934.4L1520.8 934.6L1518.5 935.1L1518.1 935.5L1516 936L1514.3 936.5L1513.1 936.9L1512.5 937.4L1513 937.8L1514.9 938.1L1516.7 938.5L1518.3 938.9L1521 939.2L1521.9 939.6L1522.8 940L1524.7 940.4L1525.3 940.8L1527.4 941.2L1525.5 941.3L1523.2 941.5L1522.2 941.6L1520.1 941.7L1520.3 941.9L1518.3 942L1515.9 942.1L1515.1 942.3L1513.6 942.4L1549.5 944L1620 946.7" stroke="#ff0000" stroke-width="2.08" fill="none" stroke-linejoin="round" />
<path d="M1620 952.5L1589 953.4L1557.2 953.9L1531.3 954.9L1568.2 956.5L1581.4 957.6L1548.4 959.3L1529.1 960.7L1620 962.2" stroke="#ff0000" stroke-width="2.08" fill="none" stroke-linejoin="round" />
<path d="M1620 963.5L1548.4 963.7L1480 964.8L1455.7 966.5L1428.2 968.7L1412.2 970L1412.2 972L1534.6 973.1L1412.2 974L1478.2 975.1L1412.2 975.8L1455.7 976.4L1445 977.2L1481.1 978L1447 979.2L1455.7 979.7L1412.2 980.8L1515.3 981.8L1412.2 982.6L1522.3 983.6L1441.4 985.2L1478.9 988L1442.5 989.6L1451.3 991.8L1460.1 993.5L1489.9 994.9L1475.6 996.5L1440.3 997.9L1449.1 999.5L1480 1000.3" stroke="#ff0000" stroke-width="2.08" fill="none" stroke-linejoin="round" />
</g>
<rect x="1411.50" y="123.50" width="204.00" height="1075.00" fill="none" stroke="#000" stroke-width="1.11"/>
<path d="M1411.00 1198.50v5.50M1411.00 123.50v-6.50M1479.00 1198.50v5.50M1479.00 123.50v-6.50M1547.00 1198.50v5.50M1547.00 123.50v-6.50M1615.00 1198.50v5.50M1615.00 123.50v-6.50M1411.50 1198.00h-6.50M1615.50 1198.00h5.50M1411.50 1044.00h-6.50M1615.50 1044.00h5.50M1411.50 891.00h-6.50M1615.50 891.00h5.50M1411.50 737.00h-6.50M1615.50 737.00h5.50M1411.50 584.00h-6.50M1615.50 584.00h5.50M1411.50 430.00h-6.50M1615.50 430.00h5.50M1411.50 277.00h-6.50M1615.50 277.00h5.50M1411.50 123.00h-6.50M1615.50 123.00h5.50" stroke="#000" stroke-width="2" fill="none"/>
<text x="1411.50" y="1220.00" font-size="16.40" text-anchor="middle" font-family="'DejaVu Serif','Liberation Serif',serif" >0.0</text>
<text x="1479.50" y="1220.00" font-size="16.40" text-anchor="middle" font-family="'DejaVu Serif','Liberation Serif',serif" >0.2</text>
<text x="1547.50" y="1220.00" font-size="16.40" text-anchor="middle" font-family="'DejaVu Serif','Liberation Serif',serif" >0.4</text>
<text x="1615.50" y="1220.00" font-size="16.40" text-anchor="middle" font-family="'DejaVu Serif','Liberation Serif',serif" >0.6</text>
<text x="1401.20" y="1204.40" font-size="16.40" text-anchor="end" font-family="'DejaVu Serif','Liberation Serif',serif" >0</text>
<text x="1401.20" y="1050.83" font-size="16.40" text-anchor="end" font-family="'DejaVu Serif','Liberation Serif',serif" >2</text>
<text x="1401.20" y="897.26" font-size="16.40" text-anchor="end" font-family="'DejaVu Serif','Liberation Serif',serif" >4</text>
<text x="1401.20" y="743.69" font-size="16.40" text-anchor="end" font-family="'DejaVu Serif','Liberation Serif',serif" >6</text>
<text x="1401.20" y="590.11" font-size="16.40" text-anchor="end" font-family="'DejaVu Serif','Liberation Serif',serif" >8</text>
<text x="1401.20" y="436.54" font-size="16.40" text-anchor="end" font-family="'DejaVu Serif','Liberation Serif',serif" >10</text>
<text x="1401.20" y="282.97" font-size="16.40" text-anchor="end" font-family="'DejaVu Serif','Liberation Serif',serif" >12</text>
<text x="1401.20" y="129.40" font-size="16.40" text-anchor="end" font-family="'DejaVu Serif','Liberation Serif',serif" >14</text>
</g>
<rect x="1448.1" y="276.8" width="95.6" height="71.7" fill="#f2f3f8" fill-opacity="0.85"/>
<text x="1453.6" y="294.20" font-size="15.38" font-family="'DejaVu Serif','Liberation Serif',serif"><tspan font-family="'DejaVu Sans','Liberation Sans',sans-serif" font-style="italic">η</tspan><tspan font-family="'DejaVu Sans','Liberation Sans',sans-serif" font-size="10.7" dy="2.6">355</tspan><tspan dy="-2.6">: 99.65</tspan></text>
<text x="1453.6" y="315.90" font-size="15.38" font-family="'DejaVu Serif','Liberation Serif',serif"><tspan font-family="'DejaVu Sans','Liberation Sans',sans-serif" font-style="italic">η</tspan><tspan font-family="'DejaVu Sans','Liberation Sans',sans-serif" font-size="10.7" dy="2.6">532</tspan><tspan dy="-2.6">: 65.27</tspan></text>
<text x="1453.6" y="337.60" font-size="15.38" font-family="'DejaVu Serif','Liberation Serif',serif"><tspan font-family="'DejaVu Sans','Liberation Sans',sans-serif" font-style="italic">η</tspan><tspan font-family="'DejaVu Sans','Liberation Sans',sans-serif" font-size="10.7" dy="2.6">1064</tspan><tspan dy="-2.6">: 2.25</tspan></text>
<rect x="1345.50" y="131.50" width="262.00" height="77.86" rx="3" ry="3" fill="#fff" fill-opacity="0.8" stroke="#ccc" stroke-opacity="0.8" stroke-width="1.39"/>
<path d="M1351.00 144.90H1382.80" stroke="#0000ff" stroke-width="2.08" fill="none" stroke-linecap="square"/>
<text x="1395.20" y="150.30" font-size="15.38" text-anchor="start" font-family="'DejaVu Serif','Liberation Serif',serif" >parDepol_raman_355_FR</text>
<path d="M1351.00 169.83H1382.80" stroke="#008000" stroke-width="2.08" fill="none" stroke-linecap="square"/>
<text x="1395.20" y="175.23" font-size="15.38" text-anchor="start" font-family="'DejaVu Serif','Liberation Serif',serif" >parDepol_raman_532_FR</text>
<path d="M1351.00 194.76H1382.80" stroke="#ff0000" stroke-width="2.08" fill="none" stroke-linecap="square"/>
<text x="1395.20" y="200.16" font-size="15.38" text-anchor="start" font-family="'DejaVu Serif','Liberation Serif',serif" >parDepol_raman_1064_FR</text>
<g id="ax6">
<path d="M1728.50 123.50V1198.50M1810.50 123.50V1198.50M1891.50 123.50V1198.50M1728.50 1198.50H1932.50M1728.50 1044.50H1932.50M1728.50 891.50H1932.50M1728.50 737.50H1932.50M1728.50 584.50H1932.50M1728.50 430.50H1932.50M1728.50 277.50H1932.50M1728.50 123.50H1932.50" stroke="#b0b0b0" stroke-width="1.11" fill="none"/>
<g clip-path="url(#c5)">
</g>
<rect x="1728.50" y="123.50" width="204.00" height="1075.00" fill="none" stroke="#000" stroke-width="1.11"/>
<path d="M1728.00 1198.50v5.50M1810.00 1198.50v5.50M1891.00 1198.50v5.50M1728.00 123.50v-6.50M1779.00 123.50v-6.50M1830.00 123.50v-6.50M1881.00 123.50v-6.50M1932.00 123.50v-6.50M1728.50 1198.00h-6.50M1932.50 1198.00h5.50M1728.50 1044.00h-6.50M1932.50 1044.00h5.50M1728.50 891.00h-6.50M1932.50 891.00h5.50M1728.50 737.00h-6.50M1932.50 737.00h5.50M1728.50 584.00h-6.50M1932.50 584.00h5.50M1728.50 430.00h-6.50M1932.50 430.00h5.50M1728.50 277.00h-6.50M1932.50 277.00h5.50M1728.50 123.00h-6.50M1932.50 123.00h5.50" stroke="#000" stroke-width="2" fill="none"/>
<text x="1728.50" y="1220.00" font-size="16.40" text-anchor="middle" font-family="'DejaVu Serif','Liberation Serif',serif" >0</text>
<text x="1810.10" y="1220.00" font-size="16.40" text-anchor="middle" font-family="'DejaVu Serif','Liberation Serif',serif" >20</text>
<text x="1891.70" y="1220.00" font-size="16.40" text-anchor="middle" font-family="'DejaVu Serif','Liberation Serif',serif" >40</text>
<text x="1718.20" y="1204.40" font-size="16.40" text-anchor="end" font-family="'DejaVu Serif','Liberation Serif',serif" >0</text>
<text x="1718.20" y="1050.83" font-size="16.40" text-anchor="end" font-family="'DejaVu Serif','Liberation Serif',serif" >2</text>
<text x="1718.20" y="897.26" font-size="16.40" text-anchor="end" font-family="'DejaVu Serif','Liberation Serif',serif" >4</text>
<text x="1718.20" y="743.69" font-size="16.40" text-anchor="end" font-family="'DejaVu Serif','Liberation Serif',serif" >6</text>
<text x="1718.20" y="590.11" font-size="16.40" text-anchor="end" font-family="'DejaVu Serif','Liberation Serif',serif" >8</text>
<text x="1718.20" y="436.54" font-size="16.40" text-anchor="end" font-family="'DejaVu Serif','Liberation Serif',serif" >10</text>
<text x="1718.20" y="282.97" font-size="16.40" text-anchor="end" font-family="'DejaVu Serif','Liberation Serif',serif" >12</text>
<text x="1718.20" y="129.40" font-size="16.40" text-anchor="end" font-family="'DejaVu Serif','Liberation Serif',serif" >14</text>
<text x="1728.50" y="109.80" font-size="16.40" text-anchor="middle" font-family="'DejaVu Serif','Liberation Serif',serif" >0</text>
<text x="1779.50" y="109.80" font-size="16.40" text-anchor="middle" font-family="'DejaVu Serif','Liberation Serif',serif" >25</text>
<text x="1830.50" y="109.80" font-size="16.40" text-anchor="middle" font-family="'DejaVu Serif','Liberation Serif',serif" >50</text>
<text x="1881.50" y="109.80" font-size="16.40" text-anchor="middle" font-family="'DejaVu Serif','Liberation Serif',serif" >75</text>
<text x="1932.50" y="109.80" font-size="16.40" text-anchor="middle" font-family="'DejaVu Serif','Liberation Serif',serif" >100</text>
</g>
<rect x="1814.50" y="131.50" width="110.00" height="30.10" rx="3" ry="3" fill="#fff" fill-opacity="0.8" stroke="#ccc" stroke-opacity="0.8" stroke-width="1.39"/>
<path d="M1820.00 145.00H1851.80" stroke="#0000ff" stroke-width="2.08" fill="none" stroke-linecap="square"/>
<text x="1864.20" y="149.70" font-size="15.38" text-anchor="start" font-family="'DejaVu Serif','Liberation Serif',serif" >WVMR</text>
<rect x="1823.50" y="185.50" width="81.00" height="29.10" rx="3" ry="3" fill="#fff" fill-opacity="0.8" stroke="#ccc" stroke-opacity="0.8" stroke-width="1.39"/>
<path d="M1829.00 199.00H1860.80" stroke="#008000" stroke-width="2.08" fill="none" stroke-linecap="square"/>
<text x="1873.20" y="203.70" font-size="15.38" text-anchor="start" font-family="'DejaVu Serif','Liberation Serif',serif" >RH</text>
<text transform="translate(105.3 661.5) rotate(-90)" font-size="20.14" text-anchor="middle" font-family="'DejaVu Serif','Liberation Serif',serif">Height [km]</text>
<text x="113.0" y="1247.8" font-size="20.14" font-family="'DejaVu Serif','Liberation Serif',serif">Backsc. coeff. [Msr<tspan font-size="14.1" dy="-7.6" font-family="'DejaVu Sans','Liberation Sans',sans-serif">−1</tspan><tspan dy="7.6"> m</tspan><tspan font-size="14.1" dy="-7.6" font-family="'DejaVu Sans','Liberation Sans',sans-serif">−1</tspan><tspan dy="7.6">]</tspan></text>
<text x="452.5" y="1247.8" font-size="20.14" font-family="'DejaVu Serif','Liberation Serif',serif">Extinct. coeff. [Mm<tspan font-size="14.1" dy="-7.6" font-family="'DejaVu Sans','Liberation Sans',sans-serif">−1</tspan><tspan dy="7.6">]</tspan></text>
<text x="880.30" y="1244.00" font-size="20.14" text-anchor="middle" font-family="'DejaVu Serif','Liberation Serif',serif" >Lidar ratio [Sr]</text>
<text x="1121.5" y="1250.0" font-size="20.14" font-family="'DejaVu Serif','Liberation Serif',serif"><tspan font-family="'DejaVu Sans','Liberation Sans',sans-serif" font-style="italic" dx="1.4">Å</tspan><tspan dx="-1.4">ngström Exp.</tspan></text>
<text x="1513.60" y="1243.60" font-size="20.14" text-anchor="middle" font-family="'DejaVu Serif','Liberation Serif',serif" >Depol. ratio</text>
<text x="1746.0" y="1248.0" font-size="20.14" font-family="'DejaVu Serif','Liberation Serif',serif">WVMR [<tspan font-family="'DejaVu Sans','Liberation Sans',sans-serif" font-style="italic">g</tspan><tspan font-family="'DejaVu Sans','Liberation Sans',sans-serif" dx="3.8" dy="-0.6">*</tspan><tspan font-family="'DejaVu Sans','Liberation Sans',sans-serif" font-style="italic" dx="3.6" dy="0.6">kg</tspan><tspan font-size="14.1" dy="-7.6" font-family="'DejaVu Sans','Liberation Sans',sans-serif">−1</tspan><tspan dy="7.6">]</tspan></text>
<text x="1830.30" y="93.10" font-size="20.14" text-anchor="middle" font-family="'DejaVu Serif','Liberation Serif',serif" >Rel.Humidity [%]</text>
<rect x="194.7" y="1276" width="211.3" height="65.8" fill="#f2f3f8"/>
<text x="200.00" y="1294.30" font-size="15.38" text-anchor="start" font-family="'DejaVu Serif','Liberation Serif',serif" >ref.H_355: 5.70-6.50 km</text>
<text x="200.00" y="1313.90" font-size="15.38" text-anchor="start" font-family="'DejaVu Serif','Liberation Serif',serif" >ref.H_532: 1.24-2.73 km</text>
<text x="200.00" y="1333.50" font-size="15.38" text-anchor="start" font-family="'DejaVu Serif','Liberation Serif',serif" >ref.H_1064: 1.55-2.97 km</text>
<rect x="1695" y="1273.8" width="165" height="28.2" fill="#f2f3f8"/>
<text x="1700.20" y="1291.50" font-size="15.38" text-anchor="start" font-family="'DejaVu Serif','Liberation Serif',serif" >WV-calib.const.: 1.0</text>
<text x="1001.30" y="1328.00" font-size="13.30" text-anchor="start" font-family="'DejaVu Serif','Liberation Serif',serif" font-weight="bold" fill="#ff3333">Preliminary</text>
<text x="1001.30" y="1343.20" font-size="13.30" text-anchor="start" font-family="'DejaVu Serif','Liberation Serif',serif" font-weight="bold" fill="#ff3333">Results.</text>
<text x="1500.50" y="1332.00" font-size="11.10" text-anchor="start" font-family="'DejaVu Serif','Liberation Serif',serif" font-weight="bold">© TROPOS &amp; FMI 2026.</text>
<text x="1500.50" y="1344.00" font-size="11.10" text-anchor="start" font-family="'DejaVu Serif','Liberation Serif',serif" font-weight="bold">CC BY SA 4.0 License.</text>
<g id="ccbadge" transform="translate(664.3 1257)"><clipPath id="bclip"><path d="M-0.3 94.9V3.4A3.6 3.6 0 0 1 3.3 -0.2H269.1A3.6 3.6 0 0 1 272.7 3.4V94.9z"/></clipPath><g clip-path="url(#bclip)"><rect x="-1" y="-1" width="275" height="97" fill="#bac1bb"/><rect x="-1" y="66.4" width="275" height="30" fill="#333"/><circle cx="47.3" cy="47.5" r="40.4" fill="#bac1bb"/><path d="M0.7 94.9V3.4A2.6 2.6 0 0 1 3.3 0.8H269.1A2.6 2.6 0 0 1 271.7 3.4V94.9" fill="none" stroke="#333" stroke-width="2"/></g><circle cx="47.3" cy="43.6" r="32.45" fill="#fff" stroke="#333" stroke-width="6.15"/><text x="47.2" y="53.9" font-family="'Liberation Sans',sans-serif" font-weight="bold" font-size="28" text-anchor="middle" fill="#333" stroke="#333" stroke-width="1.6" stroke-linejoin="round">CC</text><circle cx="143.7" cy="33.1" r="24.0" fill="#fff" stroke="#333" stroke-width="4.5"/><circle cx="143.8" cy="19.65" r="3.8" fill="#333"/><path d="M136.7 26.1a1 1 0 0 1 1-1h12a1 1 0 0 1 1 1v11h-3v12.8h-8v-12.8h-3z" fill="#333"/><circle cx="208.35" cy="33.1" r="24.0" fill="#fff" stroke="#333" stroke-width="4.5"/><path d="M194.8 29.1L195.6 29.2L196.3 27.2L197.3 25.4L198.4 23.8L199.8 22.3L201.3 21.1L203.0 20.1L204.8 19.4L206.7 19.0L208.6 18.9L210.5 19.1L212.3 19.6L214.1 20.3L215.8 21.4L217.3 22.6L218.6 24.2L219.7 25.8L220.6 27.7L221.2 29.7L221.6 31.7L221.6 33.8L221.5 35.8L221.0 37.9L220.3 39.8L219.3 41.6L218.1 43.2L216.7 44.6L215.2 45.8L213.5 46.8L211.7 47.4L209.8 47.8L207.9 47.9L206.0 47.7L204.1 47.2L202.4 46.4L200.7 45.3L199.3 44.0L198.0 42.5L196.9 40.7L196.0 38.9L195.4 36.9L203.8 36.9L204.1 38.1L204.6 39.1L205.2 40.1L205.9 40.9L206.6 41.5L207.3 42.0L208.2 42.3L209.0 42.4L209.8 42.3L210.6 42.0L211.4 41.6L212.1 40.9L212.8 40.1L213.4 39.2L213.8 38.1L214.2 36.9L214.5 35.7L214.6 34.4L214.7 33.1L214.6 31.8L214.3 30.5L214.0 29.3L213.6 28.2L213.0 27.2L212.4 26.4L211.7 25.7L210.9 25.1L210.1 24.8L209.3 24.6L208.5 24.6L207.7 24.9L206.9 25.3L206.1 25.8L205.4 26.6L204.8 27.5L204.3 28.5L204.8 29.4L199.8 35.0Z" fill="#333"/><text x="142.3" y="88.8" font-family="'Liberation Sans',sans-serif" font-weight="bold" font-size="20.3" text-anchor="middle" fill="#fff">BY</text><text x="206" y="88.8" font-family="'Liberation Sans',sans-serif" font-weight="bold" font-size="20.3" text-anchor="middle" fill="#fff">SA</text></g>
</svg>
</body></html>
